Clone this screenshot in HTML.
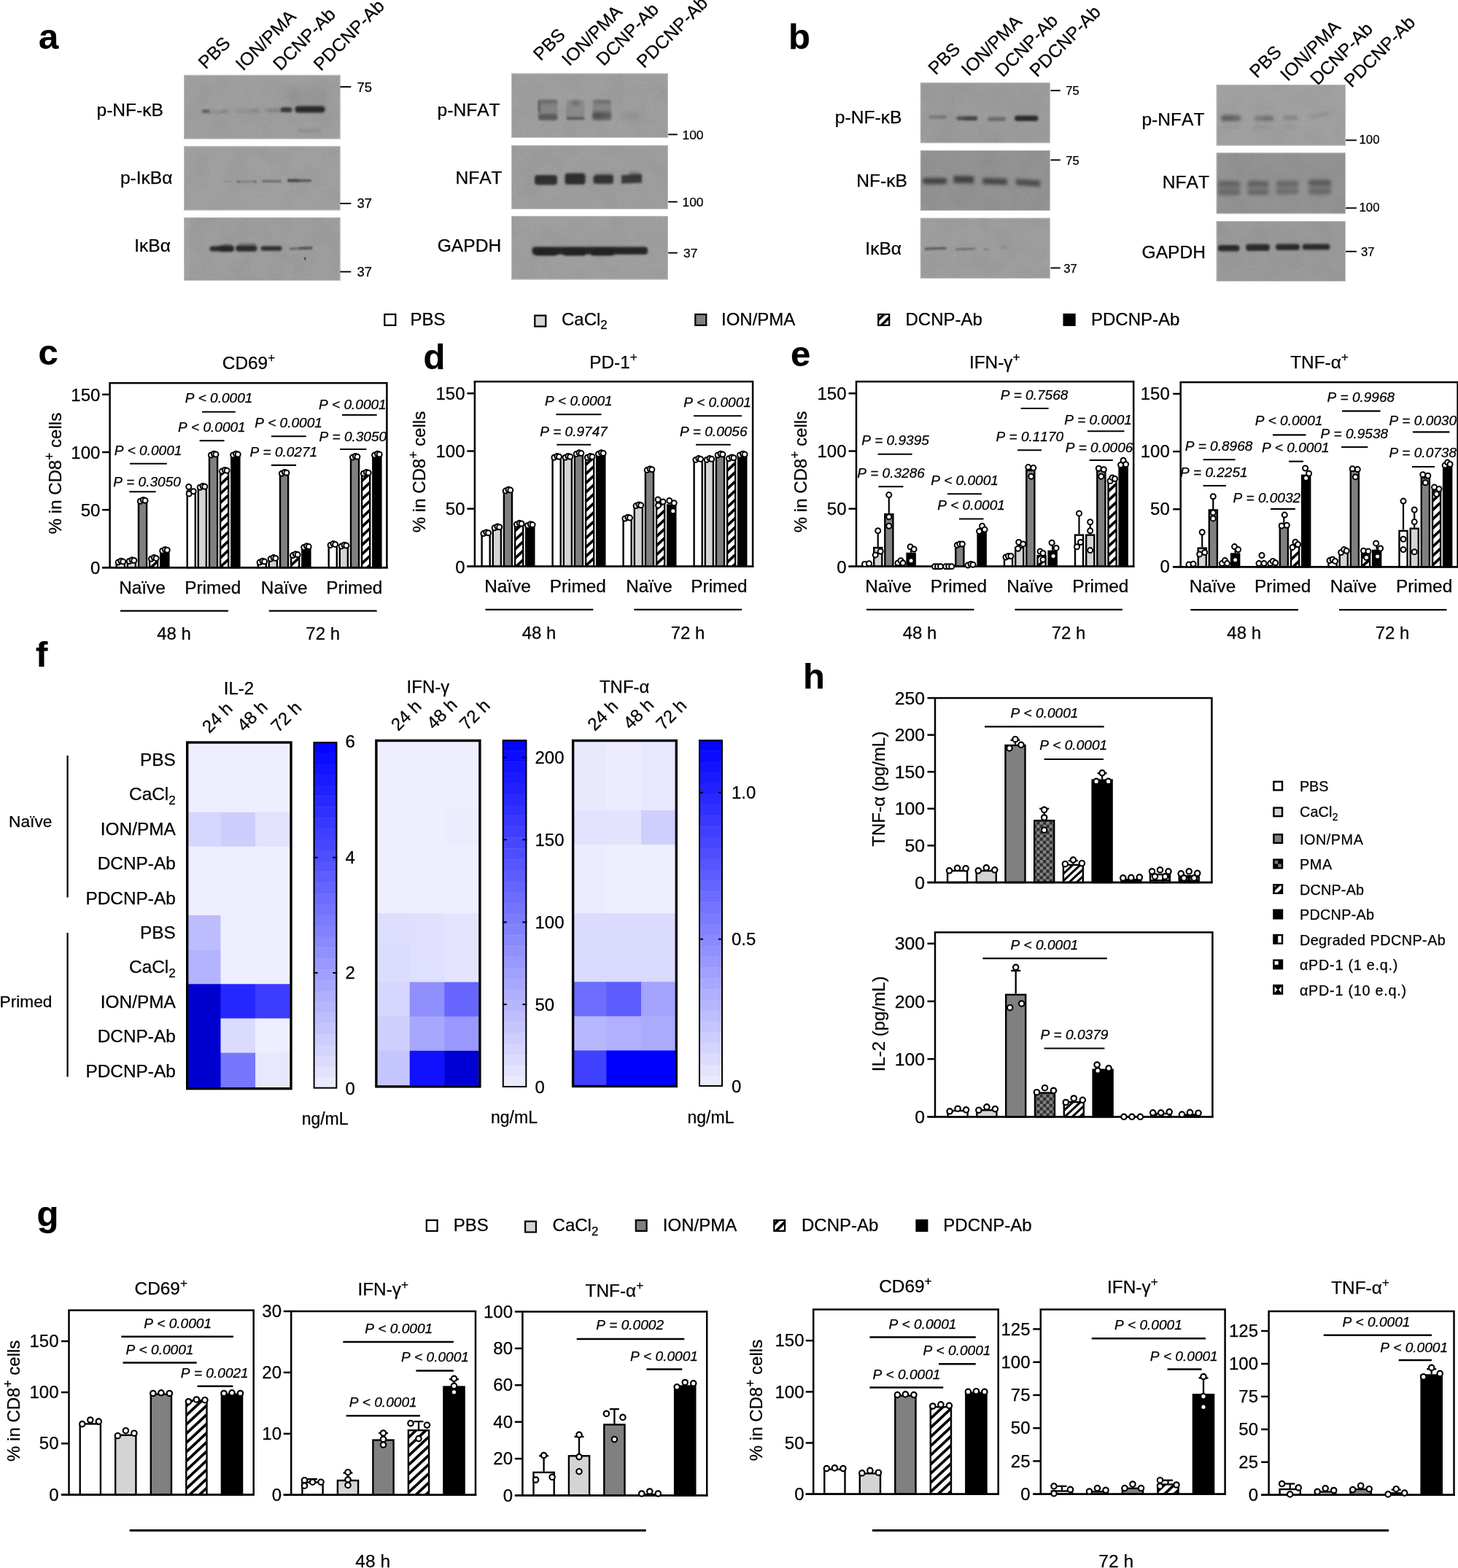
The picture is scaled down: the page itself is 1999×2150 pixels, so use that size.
<!DOCTYPE html>
<html lang="en">
<head>
<meta charset="utf-8">
<title>Figure</title>
<style>
html,body{margin:0;padding:0;background:#fff;}
body{width:1999px;height:2150px;overflow:hidden;}
svg{display:block;font-family:"Liberation Sans",sans-serif;}
svg text{fill:#000;font-kerning:none;stroke:#000;stroke-width:0.25px;stroke-linejoin:round;}
</style>
</head>
<body>
<svg width="1999" height="2150" viewBox="0 0 1999 2150">
<defs>
<filter id="grain2" x="0" y="0" width="100%" height="100%"><feTurbulence type="fractalNoise" baseFrequency="0.45" numOctaves="2" seed="11" result="n"/><feColorMatrix in="n" type="matrix" values="0 0 0 0 0  0 0 0 0 0  0 0 0 0 0  1.6 0 0 0 -0.55"/></filter>
<filter id="grain" x="0" y="0" width="100%" height="100%"><feTurbulence type="fractalNoise" baseFrequency="0.035" numOctaves="2" seed="7" result="n"/><feColorMatrix in="n" type="matrix" values="0 0 0 0 0  0 0 0 0 0  0 0 0 0 0  0.9 0 0 0 -0.35"/></filter>
<clipPath id="bc1"><rect x="252.0" y="102.8" width="214.6" height="87.8"/></clipPath>
<filter id="bl1_5" x="-50%" y="-300%" width="200%" height="700%"><feGaussianBlur stdDeviation="1.5"/></filter>
<filter id="bl2" x="-50%" y="-300%" width="200%" height="700%"><feGaussianBlur stdDeviation="2"/></filter>
<filter id="bl1_8" x="-50%" y="-300%" width="200%" height="700%"><feGaussianBlur stdDeviation="1.8"/></filter>
<filter id="bl5" x="-50%" y="-300%" width="200%" height="700%"><feGaussianBlur stdDeviation="5"/></filter>
<clipPath id="bc2"><rect x="252.0" y="200.4" width="214.6" height="88.0"/></clipPath>
<filter id="bl1" x="-50%" y="-300%" width="200%" height="700%"><feGaussianBlur stdDeviation="1"/></filter>
<clipPath id="bc3"><rect x="252.0" y="298.0" width="214.6" height="87.0"/></clipPath>
<filter id="bl1_3" x="-50%" y="-300%" width="200%" height="700%"><feGaussianBlur stdDeviation="1.3"/></filter>
<filter id="bl0_6" x="-50%" y="-300%" width="200%" height="700%"><feGaussianBlur stdDeviation="0.6"/></filter>
<clipPath id="bc4"><rect x="701.0" y="100.6" width="215.0" height="88.4"/></clipPath>
<filter id="bl1_2" x="-50%" y="-300%" width="200%" height="700%"><feGaussianBlur stdDeviation="1.2"/></filter>
<filter id="bl3" x="-50%" y="-300%" width="200%" height="700%"><feGaussianBlur stdDeviation="3"/></filter>
<clipPath id="bc5"><rect x="701.0" y="199.2" width="215.0" height="87.6"/></clipPath>
<clipPath id="bc6"><rect x="701.0" y="296.2" width="215.0" height="87.2"/></clipPath>
<clipPath id="bc7"><rect x="1261.8" y="113.3" width="178.0" height="82.9"/></clipPath>
<clipPath id="bc8"><rect x="1261.8" y="206.0" width="178.0" height="83.0"/></clipPath>
<clipPath id="bc9"><rect x="1261.8" y="298.8" width="178.0" height="83.2"/></clipPath>
<clipPath id="bc10"><rect x="1667.7" y="116.0" width="177.3" height="83.7"/></clipPath>
<clipPath id="bc11"><rect x="1667.7" y="209.4" width="177.3" height="83.8"/></clipPath>
<clipPath id="bc12"><rect x="1667.7" y="303.0" width="177.3" height="83.0"/></clipPath>
<pattern id="hatch" patternUnits="userSpaceOnUse" width="9.2" height="9.2" patternTransform="rotate(-43)"><rect width="9.2" height="9.2" fill="#fff"/><rect y="0" width="9.2" height="3.7" fill="#000"/></pattern>
<pattern id="hatchH" patternUnits="userSpaceOnUse" width="7" height="7" patternTransform="rotate(-43)"><rect width="7" height="7" fill="#fff"/><rect y="0" width="7" height="3" fill="#000"/></pattern>
<pattern id="hatchL" patternUnits="userSpaceOnUse" width="8" height="8" patternTransform="rotate(-45)"><rect width="8" height="8" fill="#fff"/><rect y="0" width="8" height="3.6" fill="#000"/></pattern>
<pattern id="chk" patternUnits="userSpaceOnUse" width="8.8" height="8.8"><rect width="8.8" height="8.8" fill="#2e2e2e"/><rect width="4.4" height="4.4" fill="#868686"/><rect x="4.4" y="4.4" width="4.4" height="4.4" fill="#868686"/></pattern>
<pattern id="grid" patternUnits="userSpaceOnUse" width="9" height="9"><rect width="9" height="9" fill="#fff"/><path d="M0 0H9M0 0V9" stroke="#000" stroke-width="5"/></pattern>
<pattern id="xx" patternUnits="userSpaceOnUse" width="10" height="10"><rect width="10" height="10" fill="#000"/><path d="M5 1.5L8.5 5L5 8.5L1.5 5Z" fill="#fff"/></pattern>
<pattern id="half" patternUnits="userSpaceOnUse" width="10" height="10"><rect width="10" height="10" fill="#000"/></pattern>
<linearGradient id="cbar" x1="0" y1="1" x2="0" y2="0"><stop offset="0" stop-color="#eeeefe"/><stop offset="1" stop-color="#0000ff"/></linearGradient>
</defs>
<rect x="0" y="0" width="1999" height="2150" fill="#fff"/>
<text x="53.0" y="66.5" font-size="49" font-weight="bold">a</text>
<text x="1081.0" y="66.5" font-size="49" font-weight="bold">b</text>
<text x="282.1" y="95.8" font-size="24.8" transform="rotate(-45 282.1 95.8)">PBS</text>
<text x="333.2" y="98.1" font-size="24.8" transform="rotate(-45 333.2 98.1)">ION/PMA</text>
<text x="384.5" y="98.1" font-size="24.8" transform="rotate(-45 384.5 98.1)">DCNP-Ab</text>
<text x="439.9" y="98.3" font-size="24.8" transform="rotate(-45 439.9 98.3)">PDCNP-Ab</text>
<text x="224.0" y="159.0" font-size="24.6" text-anchor="end">p-NF-κB</text>
<text x="236.5" y="252.0" font-size="24.6" text-anchor="end">p-IκBα</text>
<text x="234.0" y="345.0" font-size="24.6" text-anchor="end">IκBα</text>
<rect x="252.0" y="102.8" width="214.6" height="87.8" fill="#a1a1a1"/>
<g clip-path="url(#bc1)">
<rect x="252.0" y="102.8" width="214.6" height="87.8" fill="#fff" opacity="0.07" filter="url(#grain)"/>
<rect x="252.0" y="102.8" width="214.6" height="87.8" fill="#000" opacity="0.06" filter="url(#grain2)"/>
<rect x="276.5" y="150.2" width="11.5" height="4.8" rx="2.4" fill="#242424" opacity="0.5" filter="url(#bl1_5)"/>
<rect x="286.0" y="151.8" width="27.0" height="3.5" rx="1.8" fill="#242424" opacity="0.16" filter="url(#bl2)"/>
<rect x="303.0" y="150.8" width="10.0" height="3.5" rx="1.8" fill="#242424" opacity="0.14" filter="url(#bl1_5)"/>
<rect x="324.0" y="150.7" width="32.0" height="3.2" rx="1.6" fill="#242424" opacity="0.14" filter="url(#bl2)"/>
<rect x="345.0" y="149.9" width="10.0" height="3.4" rx="1.7" fill="#242424" opacity="0.12" filter="url(#bl1_5)"/>
<rect x="364.0" y="149.3" width="22.0" height="4.0" rx="2.0" fill="#242424" opacity="0.28" filter="url(#bl2)"/>
<rect x="384.5" y="147.1" width="16.0" height="7.0" rx="3.5" fill="#242424" opacity="0.8" filter="url(#bl1_8)"/>
<rect x="404.5" y="145.5" width="41.0" height="9.0" rx="4.0" fill="#242424" opacity="0.92" filter="url(#bl1_8)"/>
<rect x="408.0" y="177.0" width="32.0" height="4.0" rx="2.0" fill="#242424" opacity="0.16" filter="url(#bl2)"/>
<rect x="395.0" y="120.0" width="55.0" height="30.0" rx="4.0" fill="#242424" opacity="0.06" filter="url(#bl5)"/>
</g>
<rect x="252.5" y="103.3" width="213.6" height="86.8" fill="none" stroke="#c4c4c4" stroke-width="1" opacity="0.8"/>
<line x1="466.3" y1="119.1" x2="481.3" y2="119.1" stroke="#000" stroke-width="1.9"/>
<text x="489.5" y="125.5" font-size="18.4">75</text>
<rect x="252.0" y="200.4" width="214.6" height="88.0" fill="#a2a2a2"/>
<g clip-path="url(#bc2)">
<rect x="252.0" y="200.4" width="214.6" height="88.0" fill="#fff" opacity="0.07" filter="url(#grain)"/>
<rect x="252.0" y="200.4" width="214.6" height="88.0" fill="#000" opacity="0.06" filter="url(#grain2)"/>
<rect x="306.0" y="248.0" width="12.0" height="2.0" rx="1.0" fill="#242424" opacity="0.12" filter="url(#bl1)"/>
<rect x="325.0" y="247.9" width="27.0" height="2.2" rx="1.1" fill="#242424" opacity="0.25" filter="url(#bl1)"/>
<rect x="325.0" y="247.8" width="4.0" height="3.0" rx="1.5" fill="#242424" opacity="0.3" filter="url(#bl1)"/>
<rect x="348.0" y="247.8" width="4.0" height="3.0" rx="1.5" fill="#242424" opacity="0.3" filter="url(#bl1)"/>
<rect x="359.0" y="247.1" width="27.0" height="3.0" rx="1.5" fill="#242424" opacity="0.4" filter="url(#bl1)"/>
<rect x="394.0" y="245.8" width="33.0" height="3.6" rx="1.8" fill="#242424" opacity="0.55" filter="url(#bl1)"/>
<rect x="394.0" y="245.6" width="16.0" height="4.0" rx="2.0" fill="#242424" opacity="0.3" filter="url(#bl1)"/>
</g>
<rect x="252.5" y="200.9" width="213.6" height="87.0" fill="none" stroke="#c4c4c4" stroke-width="1" opacity="0.8"/>
<line x1="466.3" y1="279.0" x2="481.3" y2="279.0" stroke="#000" stroke-width="1.9"/>
<text x="489.5" y="285.4" font-size="18.4">37</text>
<rect x="252.0" y="298.0" width="214.6" height="87.0" fill="#a0a0a0"/>
<g clip-path="url(#bc3)">
<rect x="252.0" y="298.0" width="214.6" height="87.0" fill="#fff" opacity="0.07" filter="url(#grain)"/>
<rect x="252.0" y="298.0" width="214.6" height="87.0" fill="#000" opacity="0.06" filter="url(#grain2)"/>
<rect x="287.5" y="337.4" width="33.0" height="7.2" rx="3.6" fill="#242424" opacity="0.92" filter="url(#bl1_5)"/>
<rect x="300.0" y="336.3" width="20.5" height="8.6" rx="4.0" fill="#242424" opacity="0.6" filter="url(#bl1_5)"/>
<rect x="323.0" y="336.5" width="29.5" height="8.2" rx="4.0" fill="#242424" opacity="0.92" filter="url(#bl1_5)"/>
<rect x="327.0" y="333.5" width="24.0" height="3.0" rx="1.5" fill="#242424" opacity="0.35" filter="url(#bl1_5)"/>
<rect x="306.0" y="334.3" width="12.0" height="2.6" rx="1.3" fill="#242424" opacity="0.25" filter="url(#bl1_5)"/>
<rect x="357.5" y="337.4" width="29.0" height="6.4" rx="3.2" fill="#242424" opacity="0.9" filter="url(#bl1_5)"/>
<path d="M397.0 339.4L428.0 338.4L428.0 341.8L397.0 342.8Z" fill="#242424" opacity="0.42" filter="url(#bl1_3)"/>
<path d="M410.0 338.5L428.0 337.9L428.0 341.5L410.0 342.1Z" fill="#242424" opacity="0.3" filter="url(#bl1_3)"/>
<rect x="417.0" y="352.4" width="2.5" height="4.4" rx="2.2" fill="#242424" opacity="0.7" filter="url(#bl0_6)"/>
<rect x="252.0" y="301.0" width="8.0" height="80.0" rx="4.0" fill="#fff" opacity="0.06" filter="url(#bl2)"/>
</g>
<rect x="252.5" y="298.5" width="213.6" height="86.0" fill="none" stroke="#c4c4c4" stroke-width="1" opacity="0.8"/>
<line x1="466.3" y1="372.6" x2="481.3" y2="372.6" stroke="#000" stroke-width="1.9"/>
<text x="489.5" y="379.0" font-size="18.4">37</text>
<text x="741.3" y="84.3" font-size="24.8" transform="rotate(-45 741.3 84.3)">PBS</text>
<text x="780.5" y="91.5" font-size="24.8" transform="rotate(-45 780.5 91.5)">ION/PMA</text>
<text x="827.5" y="91.5" font-size="24.8" transform="rotate(-45 827.5 91.5)">DCNP-Ab</text>
<text x="883.0" y="94.5" font-size="24.8" transform="rotate(-45 883.0 94.5)">PDCNP-Ab</text>
<text x="685.6" y="159.3" font-size="24.6" text-anchor="end">p-NFAT</text>
<text x="688.6" y="252.0" font-size="24.6" text-anchor="end">NFAT</text>
<text x="687.2" y="344.8" font-size="24.6" text-anchor="end">GAPDH</text>
<rect x="701.0" y="100.6" width="215.0" height="88.4" fill="#a1a1a1"/>
<g clip-path="url(#bc4)">
<rect x="701.0" y="100.6" width="215.0" height="88.4" fill="#fff" opacity="0.07" filter="url(#grain)"/>
<rect x="701.0" y="100.6" width="215.0" height="88.4" fill="#000" opacity="0.06" filter="url(#grain2)"/>
<rect x="738.0" y="136.5" width="26.5" height="29.0" rx="4.0" fill="#242424" opacity="0.2" filter="url(#bl1_2)"/>
<rect x="738.0" y="156.5" width="26.5" height="8.0" rx="4.0" fill="#242424" opacity="0.42" filter="url(#bl1_5)"/>
<rect x="740.0" y="136.5" width="24.5" height="6.0" rx="3.0" fill="#242424" opacity="0.22" filter="url(#bl1_5)"/>
<rect x="738.0" y="137.0" width="2.5" height="18.0" rx="4.0" fill="#242424" opacity="0.45" filter="url(#bl1)"/>
<rect x="776.5" y="137.0" width="25.0" height="28.0" rx="4.0" fill="#242424" opacity="0.15" filter="url(#bl1_2)"/>
<rect x="776.5" y="160.3" width="25.0" height="4.0" rx="2.0" fill="#242424" opacity="0.4" filter="url(#bl1_2)"/>
<rect x="783.0" y="137.5" width="12.0" height="7.0" rx="3.5" fill="#242424" opacity="0.25" filter="url(#bl2)"/>
<rect x="812.5" y="136.5" width="25.5" height="29.0" rx="4.0" fill="#242424" opacity="0.2" filter="url(#bl1_2)"/>
<rect x="812.5" y="153.5" width="25.5" height="10.0" rx="4.0" fill="#242424" opacity="0.42" filter="url(#bl2)"/>
<rect x="812.5" y="154.5" width="12.5" height="9.0" rx="4.0" fill="#242424" opacity="0.2" filter="url(#bl2)"/>
<rect x="815.0" y="137.0" width="22.0" height="5.0" rx="2.5" fill="#242424" opacity="0.18" filter="url(#bl1_5)"/>
<rect x="849.0" y="153.0" width="27.0" height="10.0" rx="4.0" fill="#242424" opacity="0.07" filter="url(#bl3)"/>
</g>
<rect x="701.5" y="101.1" width="214.0" height="87.4" fill="none" stroke="#c4c4c4" stroke-width="1" opacity="0.8"/>
<line x1="916.2" y1="184.4" x2="928.8" y2="184.4" stroke="#000" stroke-width="1.9"/>
<text x="935.5" y="191.0" font-size="17.4">100</text>
<rect x="701.0" y="199.2" width="215.0" height="87.6" fill="#a0a0a0"/>
<g clip-path="url(#bc5)">
<rect x="701.0" y="199.2" width="215.0" height="87.6" fill="#fff" opacity="0.07" filter="url(#grain)"/>
<rect x="701.0" y="199.2" width="215.0" height="87.6" fill="#000" opacity="0.06" filter="url(#grain2)"/>
<rect x="733.0" y="240.1" width="31.0" height="13.5" rx="4.0" fill="#242424" opacity="0.88" filter="url(#bl1_8)"/>
<rect x="774.5" y="237.4" width="28.0" height="15.5" rx="4.0" fill="#242424" opacity="0.9" filter="url(#bl1_8)"/>
<rect x="813.5" y="239.8" width="27.5" height="12.5" rx="4.0" fill="#242424" opacity="0.85" filter="url(#bl1_8)"/>
<rect x="818.0" y="237.5" width="23.0" height="5.0" rx="2.5" fill="#242424" opacity="0.25" filter="url(#bl2)"/>
<path d="M852.0 240.2L880.0 239.3L880.0 250.8L852.0 251.7Z" fill="#242424" opacity="0.8" filter="url(#bl1_8)"/>
<rect x="862.0" y="236.5" width="16.0" height="6.0" rx="3.0" fill="#242424" opacity="0.45" filter="url(#bl2)"/>
</g>
<rect x="701.5" y="199.7" width="214.0" height="86.6" fill="none" stroke="#c4c4c4" stroke-width="1" opacity="0.8"/>
<line x1="916.2" y1="276.7" x2="928.8" y2="276.7" stroke="#000" stroke-width="1.9"/>
<text x="935.5" y="283.3" font-size="17.4">100</text>
<rect x="701.0" y="296.2" width="215.0" height="87.2" fill="#a1a1a1"/>
<g clip-path="url(#bc6)">
<rect x="701.0" y="296.2" width="215.0" height="87.2" fill="#fff" opacity="0.07" filter="url(#grain)"/>
<rect x="701.0" y="296.2" width="215.0" height="87.2" fill="#000" opacity="0.06" filter="url(#grain2)"/>
<rect x="729.5" y="338.4" width="158.5" height="10.5" rx="4.0" fill="#242424" opacity="0.96" filter="url(#bl1_5)"/>
<rect x="733.0" y="341.5" width="31.0" height="9.0" rx="4.0" fill="#242424" opacity="0.9" filter="url(#bl1_5)"/>
<rect x="772.0" y="341.5" width="31.0" height="9.0" rx="4.0" fill="#242424" opacity="0.9" filter="url(#bl1_5)"/>
<rect x="810.0" y="341.5" width="32.0" height="9.0" rx="4.0" fill="#242424" opacity="0.9" filter="url(#bl1_5)"/>
</g>
<rect x="701.5" y="296.7" width="214.0" height="86.2" fill="none" stroke="#c4c4c4" stroke-width="1" opacity="0.8"/>
<line x1="916.2" y1="346.7" x2="928.8" y2="346.7" stroke="#000" stroke-width="1.9"/>
<text x="937.0" y="353.1" font-size="17.4">37</text>
<text x="1282.8" y="103.8" font-size="24.8" transform="rotate(-45 1282.8 103.8)">PBS</text>
<text x="1328.3" y="105.3" font-size="24.8" transform="rotate(-45 1328.3 105.3)">ION/PMA</text>
<text x="1374.8" y="106.7" font-size="24.8" transform="rotate(-45 1374.8 106.7)">DCNP-Ab</text>
<text x="1421.8" y="106.7" font-size="24.8" transform="rotate(-45 1421.8 106.7)">PDCNP-Ab</text>
<text x="1236.4" y="168.6" font-size="24.6" text-anchor="end">p-NF-κB</text>
<text x="1243.9" y="255.7" font-size="24.6" text-anchor="end">NF-κB</text>
<text x="1236.1" y="348.6" font-size="24.6" text-anchor="end">IκBα</text>
<rect x="1261.8" y="113.3" width="178.0" height="82.9" fill="#9e9e9e"/>
<g clip-path="url(#bc7)">
<rect x="1261.8" y="113.3" width="178.0" height="82.9" fill="#fff" opacity="0.07" filter="url(#grain)"/>
<rect x="1261.8" y="113.3" width="178.0" height="82.9" fill="#000" opacity="0.06" filter="url(#grain2)"/>
<rect x="1273.5" y="158.3" width="24.5" height="4.5" rx="2.2" fill="#242424" opacity="0.28" filter="url(#bl1_5)"/>
<rect x="1311.5" y="159.6" width="28.5" height="5.5" rx="2.8" fill="#242424" opacity="0.6" filter="url(#bl1_5)"/>
<rect x="1322.0" y="159.8" width="18.0" height="5.5" rx="2.8" fill="#242424" opacity="0.3" filter="url(#bl1_5)"/>
<rect x="1354.0" y="160.6" width="25.0" height="5.5" rx="2.8" fill="#242424" opacity="0.4" filter="url(#bl1_5)"/>
<rect x="1391.0" y="158.5" width="32.5" height="7.6" rx="3.8" fill="#242424" opacity="0.92" filter="url(#bl1_5)"/>
</g>
<rect x="1262.3" y="113.8" width="177.0" height="81.9" fill="none" stroke="#c4c4c4" stroke-width="1" opacity="0.8"/>
<line x1="1440.5" y1="124.2" x2="1453.8" y2="124.2" stroke="#000" stroke-width="1.9"/>
<text x="1461.3" y="130.3" font-size="16.6">75</text>
<rect x="1261.8" y="206.0" width="178.0" height="83.0" fill="#959595"/>
<g clip-path="url(#bc8)">
<rect x="1261.8" y="206.0" width="178.0" height="83.0" fill="#fff" opacity="0.07" filter="url(#grain)"/>
<rect x="1261.8" y="206.0" width="178.0" height="83.0" fill="#000" opacity="0.06" filter="url(#grain2)"/>
<rect x="1265.0" y="244.1" width="33.5" height="8.5" rx="4.0" fill="#242424" opacity="0.68" filter="url(#bl2)"/>
<path d="M1307.5 241.1L1335.0 241.5L1335.0 251.5L1307.5 251.1Z" fill="#242424" opacity="0.7" filter="url(#bl2)"/>
<path d="M1347.5 244.0L1380.5 245.1L1380.5 253.6L1347.5 252.5Z" fill="#242424" opacity="0.66" filter="url(#bl2)"/>
<path d="M1393.0 245.2L1426.0 247.5L1426.0 256.0L1393.0 253.7Z" fill="#242424" opacity="0.6" filter="url(#bl2)"/>
</g>
<rect x="1262.3" y="206.5" width="177.0" height="82.0" fill="none" stroke="#c4c4c4" stroke-width="1" opacity="0.8"/>
<line x1="1440.5" y1="219.4" x2="1453.8" y2="219.4" stroke="#000" stroke-width="1.9"/>
<text x="1461.3" y="225.5" font-size="16.6">75</text>
<rect x="1261.8" y="298.8" width="178.0" height="83.2" fill="#a0a0a0"/>
<g clip-path="url(#bc9)">
<rect x="1261.8" y="298.8" width="178.0" height="83.2" fill="#fff" opacity="0.07" filter="url(#grain)"/>
<rect x="1261.8" y="298.8" width="178.0" height="83.2" fill="#000" opacity="0.06" filter="url(#grain2)"/>
<path d="M1268.0 339.5L1297.0 338.5L1297.0 342.1L1268.0 343.1Z" fill="#242424" opacity="0.5" filter="url(#bl1_2)"/>
<path d="M1310.0 340.5L1337.0 339.5L1337.0 342.5L1310.0 343.5Z" fill="#242424" opacity="0.33" filter="url(#bl1_2)"/>
<rect x="1348.0" y="340.4" width="8.0" height="2.4" rx="1.2" fill="#242424" opacity="0.25" filter="url(#bl1)"/>
<rect x="1372.0" y="337.3" width="8.0" height="3.4" rx="1.7" fill="#242424" opacity="0.15" filter="url(#bl1_5)"/>
</g>
<rect x="1262.3" y="299.3" width="177.0" height="82.2" fill="none" stroke="#c4c4c4" stroke-width="1" opacity="0.8"/>
<line x1="1440.5" y1="367.4" x2="1453.8" y2="367.4" stroke="#000" stroke-width="1.9"/>
<text x="1458.3" y="373.5" font-size="16.6">37</text>
<text x="1723.3" y="107.9" font-size="24.8" transform="rotate(-45 1723.3 107.9)">PBS</text>
<text x="1765.5" y="112.3" font-size="24.8" transform="rotate(-45 1765.5 112.3)">ION/PMA</text>
<text x="1806.5" y="118.1" font-size="24.8" transform="rotate(-45 1806.5 118.1)">DCNP-Ab</text>
<text x="1853.1" y="121.0" font-size="24.8" transform="rotate(-45 1853.1 121.0)">PDCNP-Ab</text>
<text x="1651.5" y="172.4" font-size="24.6" text-anchor="end">p-NFAT</text>
<text x="1658.0" y="257.7" font-size="24.6" text-anchor="end">NFAT</text>
<text x="1653.0" y="354.4" font-size="24.6" text-anchor="end">GAPDH</text>
<rect x="1667.7" y="116.0" width="177.3" height="83.7" fill="#a3a3a3"/>
<g clip-path="url(#bc10)">
<rect x="1667.7" y="116.0" width="177.3" height="83.7" fill="#fff" opacity="0.07" filter="url(#grain)"/>
<rect x="1667.7" y="116.0" width="177.3" height="83.7" fill="#000" opacity="0.06" filter="url(#grain2)"/>
<rect x="1673.5" y="157.8" width="28.0" height="8.5" rx="4.0" fill="#242424" opacity="0.42" filter="url(#bl2)"/>
<rect x="1676.0" y="159.5" width="16.0" height="5.0" rx="2.5" fill="#242424" opacity="0.2" filter="url(#bl2)"/>
<rect x="1719.5" y="159.2" width="26.5" height="6.5" rx="3.2" fill="#242424" opacity="0.3" filter="url(#bl2)"/>
<rect x="1732.0" y="159.5" width="14.0" height="6.0" rx="3.0" fill="#242424" opacity="0.15" filter="url(#bl2)"/>
<rect x="1759.0" y="158.8" width="21.0" height="5.5" rx="2.8" fill="#242424" opacity="0.24" filter="url(#bl2)"/>
<path d="M1795.5 158.7L1821.0 153.3L1821.0 157.3L1795.5 162.7Z" fill="#242424" opacity="0.14" filter="url(#bl2)"/>
<rect x="1678.0" y="172.5" width="24.0" height="3.0" rx="1.5" fill="#242424" opacity="0.1" filter="url(#bl2)"/>
<rect x="1719.0" y="172.5" width="25.0" height="3.0" rx="1.5" fill="#242424" opacity="0.12" filter="url(#bl2)"/>
<rect x="1762.0" y="172.5" width="19.0" height="3.0" rx="1.5" fill="#242424" opacity="0.09" filter="url(#bl2)"/>
</g>
<rect x="1668.2" y="116.5" width="176.3" height="82.7" fill="none" stroke="#c4c4c4" stroke-width="1" opacity="0.8"/>
<line x1="1845.1" y1="192.3" x2="1859.9" y2="192.3" stroke="#000" stroke-width="1.9"/>
<text x="1863.5" y="197.2" font-size="16.8">100</text>
<rect x="1667.7" y="209.4" width="177.3" height="83.8" fill="#959595"/>
<g clip-path="url(#bc11)">
<rect x="1667.7" y="209.4" width="177.3" height="83.8" fill="#fff" opacity="0.07" filter="url(#grain)"/>
<rect x="1667.7" y="209.4" width="177.3" height="83.8" fill="#000" opacity="0.06" filter="url(#grain2)"/>
<rect x="1669.7" y="248.0" width="30.3" height="19.0" rx="4.0" fill="#242424" opacity="0.2" filter="url(#bl2)"/>
<rect x="1669.7" y="248.2" width="30.3" height="7.5" rx="3.8" fill="#242424" opacity="0.25" filter="url(#bl2)"/>
<rect x="1669.7" y="260.5" width="30.3" height="7.0" rx="3.5" fill="#242424" opacity="0.2" filter="url(#bl2)"/>
<rect x="1710.6" y="248.0" width="28.8" height="19.0" rx="4.0" fill="#242424" opacity="0.2" filter="url(#bl2)"/>
<rect x="1710.6" y="248.2" width="28.8" height="7.5" rx="3.8" fill="#242424" opacity="0.25" filter="url(#bl2)"/>
<rect x="1710.6" y="260.5" width="28.8" height="7.0" rx="3.5" fill="#242424" opacity="0.22" filter="url(#bl2)"/>
<rect x="1750.0" y="248.0" width="30.3" height="18.0" rx="4.0" fill="#242424" opacity="0.17" filter="url(#bl2)"/>
<rect x="1750.0" y="248.2" width="30.3" height="7.5" rx="3.8" fill="#242424" opacity="0.2" filter="url(#bl2)"/>
<rect x="1750.0" y="259.5" width="30.3" height="7.0" rx="3.5" fill="#242424" opacity="0.18" filter="url(#bl2)"/>
<rect x="1794.0" y="247.0" width="31.0" height="19.0" rx="4.0" fill="#242424" opacity="0.2" filter="url(#bl2)"/>
<rect x="1794.0" y="246.5" width="31.0" height="8.0" rx="4.0" fill="#242424" opacity="0.32" filter="url(#bl2)"/>
<rect x="1794.0" y="259.5" width="31.0" height="7.0" rx="3.5" fill="#242424" opacity="0.2" filter="url(#bl2)"/>
</g>
<rect x="1668.2" y="209.9" width="176.3" height="82.8" fill="none" stroke="#c4c4c4" stroke-width="1" opacity="0.8"/>
<line x1="1845.1" y1="285.3" x2="1859.9" y2="285.3" stroke="#000" stroke-width="1.9"/>
<text x="1863.5" y="290.2" font-size="16.8">100</text>
<rect x="1667.7" y="303.0" width="177.3" height="83.0" fill="#9c9c9c"/>
<g clip-path="url(#bc12)">
<rect x="1667.7" y="303.0" width="177.3" height="83.0" fill="#fff" opacity="0.07" filter="url(#grain)"/>
<rect x="1667.7" y="303.0" width="177.3" height="83.0" fill="#000" opacity="0.06" filter="url(#grain2)"/>
<rect x="1669.7" y="335.9" width="29.8" height="8.6" rx="4.0" fill="#242424" opacity="0.93" filter="url(#bl1_5)"/>
<rect x="1708.0" y="334.7" width="33.0" height="9.4" rx="4.0" fill="#242424" opacity="0.93" filter="url(#bl1_5)"/>
<rect x="1749.0" y="334.5" width="33.0" height="8.6" rx="4.0" fill="#242424" opacity="0.93" filter="url(#bl1_5)"/>
<rect x="1785.5" y="334.6" width="38.0" height="8.0" rx="4.0" fill="#242424" opacity="0.93" filter="url(#bl1_5)"/>
</g>
<rect x="1668.2" y="303.5" width="176.3" height="82.0" fill="none" stroke="#c4c4c4" stroke-width="1" opacity="0.8"/>
<line x1="1845.1" y1="344.8" x2="1859.9" y2="344.8" stroke="#000" stroke-width="1.9"/>
<text x="1866.0" y="351.1" font-size="16.8">37</text>
<rect x="527.3" y="431.0" width="15.0" height="15.0" fill="#fff" stroke="#000" stroke-width="2.2"/>
<text x="562.6" y="445.6" font-size="24">PBS</text>
<rect x="733.3" y="432.6" width="15.0" height="15.0" fill="#d4d4d4" stroke="#000" stroke-width="2.2"/>
<text x="770.0" y="445.6" font-size="24">CaCl<tspan font-size="16.8" dy="5.6">2</tspan></text>
<rect x="953.3" y="431.0" width="15.0" height="15.0" fill="#808080" stroke="#000" stroke-width="2.2"/>
<text x="989.0" y="445.6" font-size="24">ION/PMA</text>
<rect x="1204.2" y="431.0" width="15.0" height="15.0" fill="url(#hatchL)" stroke="#000" stroke-width="2.2"/>
<text x="1241.5" y="445.6" font-size="24">DCNP-Ab</text>
<rect x="1458.6" y="431.0" width="15.0" height="15.0" fill="#000" stroke="#000" stroke-width="2.2"/>
<text x="1496.0" y="445.6" font-size="24">PDCNP-Ab</text>
<text x="52.5" y="499.5" font-size="49" font-weight="bold">c</text>
<rect x="159.7" y="771.5" width="11.1" height="6.7" fill="#fff" stroke="#000" stroke-width="2.4"/>
<rect x="174.8" y="769.9" width="11.1" height="8.3" fill="#d4d4d4" stroke="#000" stroke-width="2.4"/>
<rect x="190.0" y="687.6" width="11.1" height="90.6" fill="#808080" stroke="#000" stroke-width="2.4"/>
<rect x="205.1" y="766.7" width="11.1" height="11.5" fill="url(#hatch)" stroke="#000" stroke-width="2.4"/>
<rect x="220.3" y="755.7" width="11.1" height="22.5" fill="#000" stroke="#000" stroke-width="2.4"/>
<rect x="256.7" y="673.4" width="11.1" height="104.8" fill="#fff" stroke="#000" stroke-width="2.4"/>
<rect x="271.8" y="668.7" width="11.1" height="109.5" fill="#d4d4d4" stroke="#000" stroke-width="2.4"/>
<rect x="287.0" y="624.4" width="11.1" height="153.8" fill="#808080" stroke="#000" stroke-width="2.4"/>
<rect x="302.1" y="646.5" width="11.1" height="131.7" fill="url(#hatch)" stroke="#000" stroke-width="2.4"/>
<rect x="317.3" y="624.4" width="11.1" height="153.8" fill="#000" stroke="#000" stroke-width="2.4"/>
<rect x="353.7" y="771.5" width="11.1" height="6.7" fill="#fff" stroke="#000" stroke-width="2.4"/>
<rect x="368.8" y="766.7" width="11.1" height="11.5" fill="#d4d4d4" stroke="#000" stroke-width="2.4"/>
<rect x="384.0" y="649.7" width="11.1" height="128.5" fill="#808080" stroke="#000" stroke-width="2.4"/>
<rect x="399.1" y="762.0" width="11.1" height="16.2" fill="url(#hatch)" stroke="#000" stroke-width="2.4"/>
<rect x="414.3" y="750.9" width="11.1" height="27.3" fill="#000" stroke="#000" stroke-width="2.4"/>
<rect x="450.7" y="747.8" width="11.1" height="30.4" fill="#fff" stroke="#000" stroke-width="2.4"/>
<rect x="465.8" y="749.3" width="11.1" height="28.9" fill="#d4d4d4" stroke="#000" stroke-width="2.4"/>
<rect x="481.0" y="627.5" width="11.1" height="150.7" fill="#808080" stroke="#000" stroke-width="2.4"/>
<rect x="496.1" y="649.7" width="11.1" height="128.5" fill="url(#hatch)" stroke="#000" stroke-width="2.4"/>
<rect x="511.3" y="624.4" width="11.1" height="153.8" fill="#000" stroke="#000" stroke-width="2.4"/>
<rect x="150.6" y="525.2" width="379.8" height="253.0" fill="none" stroke="#000" stroke-width="2.5"/>
<line x1="140.1" y1="778.2" x2="531.6" y2="778.2" stroke="#000" stroke-width="2.5"/>
<circle cx="162.1" cy="771.1" r="3.5" fill="#fff" stroke="#000" stroke-width="2.0"/>
<circle cx="165.8" cy="769.3" r="3.5" fill="#fff" stroke="#000" stroke-width="2.0"/>
<circle cx="168.7" cy="770.1" r="3.5" fill="#fff" stroke="#000" stroke-width="2.0"/>
<circle cx="177.2" cy="769.5" r="3.5" fill="#fff" stroke="#000" stroke-width="2.0"/>
<circle cx="181.0" cy="767.8" r="3.5" fill="#fff" stroke="#000" stroke-width="2.0"/>
<circle cx="183.8" cy="768.5" r="3.5" fill="#fff" stroke="#000" stroke-width="2.0"/>
<circle cx="192.4" cy="687.2" r="3.5" fill="#fff" stroke="#000" stroke-width="2.0"/>
<circle cx="196.2" cy="685.5" r="3.5" fill="#fff" stroke="#000" stroke-width="2.0"/>
<circle cx="199.0" cy="686.3" r="3.5" fill="#fff" stroke="#000" stroke-width="2.0"/>
<circle cx="207.5" cy="766.3" r="3.5" fill="#fff" stroke="#000" stroke-width="2.0"/>
<circle cx="211.3" cy="764.6" r="3.5" fill="#fff" stroke="#000" stroke-width="2.0"/>
<circle cx="214.1" cy="765.4" r="3.5" fill="#fff" stroke="#000" stroke-width="2.0"/>
<circle cx="222.7" cy="755.3" r="3.5" fill="#fff" stroke="#000" stroke-width="2.0"/>
<circle cx="226.4" cy="753.5" r="3.5" fill="#fff" stroke="#000" stroke-width="2.0"/>
<circle cx="229.2" cy="754.3" r="3.5" fill="#fff" stroke="#000" stroke-width="2.0"/>
<circle cx="258.8" cy="667.5" r="3.5" fill="#fff" stroke="#000" stroke-width="2.0"/>
<circle cx="259.2" cy="677.0" r="3.5" fill="#fff" stroke="#000" stroke-width="2.0"/>
<circle cx="265.2" cy="673.8" r="3.5" fill="#fff" stroke="#000" stroke-width="2.0"/>
<circle cx="274.2" cy="668.3" r="3.5" fill="#fff" stroke="#000" stroke-width="2.0"/>
<circle cx="278.0" cy="666.5" r="3.5" fill="#fff" stroke="#000" stroke-width="2.0"/>
<circle cx="280.8" cy="667.3" r="3.5" fill="#fff" stroke="#000" stroke-width="2.0"/>
<circle cx="289.4" cy="624.0" r="3.5" fill="#fff" stroke="#000" stroke-width="2.0"/>
<circle cx="293.2" cy="622.2" r="3.5" fill="#fff" stroke="#000" stroke-width="2.0"/>
<circle cx="295.9" cy="623.0" r="3.5" fill="#fff" stroke="#000" stroke-width="2.0"/>
<circle cx="304.5" cy="646.1" r="3.5" fill="#fff" stroke="#000" stroke-width="2.0"/>
<circle cx="308.3" cy="644.4" r="3.5" fill="#fff" stroke="#000" stroke-width="2.0"/>
<circle cx="311.1" cy="645.2" r="3.5" fill="#fff" stroke="#000" stroke-width="2.0"/>
<circle cx="319.7" cy="624.0" r="3.5" fill="#fff" stroke="#000" stroke-width="2.0"/>
<circle cx="323.5" cy="622.2" r="3.5" fill="#fff" stroke="#000" stroke-width="2.0"/>
<circle cx="326.2" cy="623.0" r="3.5" fill="#fff" stroke="#000" stroke-width="2.0"/>
<circle cx="356.1" cy="771.1" r="3.5" fill="#fff" stroke="#000" stroke-width="2.0"/>
<circle cx="359.9" cy="769.3" r="3.5" fill="#fff" stroke="#000" stroke-width="2.0"/>
<circle cx="362.6" cy="770.1" r="3.5" fill="#fff" stroke="#000" stroke-width="2.0"/>
<circle cx="371.2" cy="766.3" r="3.5" fill="#fff" stroke="#000" stroke-width="2.0"/>
<circle cx="375.0" cy="764.6" r="3.5" fill="#fff" stroke="#000" stroke-width="2.0"/>
<circle cx="377.8" cy="765.4" r="3.5" fill="#fff" stroke="#000" stroke-width="2.0"/>
<circle cx="386.4" cy="649.3" r="3.5" fill="#fff" stroke="#000" stroke-width="2.0"/>
<circle cx="390.2" cy="647.5" r="3.5" fill="#fff" stroke="#000" stroke-width="2.0"/>
<circle cx="392.9" cy="648.3" r="3.5" fill="#fff" stroke="#000" stroke-width="2.0"/>
<circle cx="401.5" cy="761.6" r="3.5" fill="#fff" stroke="#000" stroke-width="2.0"/>
<circle cx="405.3" cy="759.8" r="3.5" fill="#fff" stroke="#000" stroke-width="2.0"/>
<circle cx="408.1" cy="760.6" r="3.5" fill="#fff" stroke="#000" stroke-width="2.0"/>
<circle cx="416.7" cy="750.5" r="3.5" fill="#fff" stroke="#000" stroke-width="2.0"/>
<circle cx="420.5" cy="748.8" r="3.5" fill="#fff" stroke="#000" stroke-width="2.0"/>
<circle cx="423.2" cy="749.6" r="3.5" fill="#fff" stroke="#000" stroke-width="2.0"/>
<circle cx="453.1" cy="747.4" r="3.5" fill="#fff" stroke="#000" stroke-width="2.0"/>
<circle cx="456.9" cy="745.6" r="3.5" fill="#fff" stroke="#000" stroke-width="2.0"/>
<circle cx="459.6" cy="746.4" r="3.5" fill="#fff" stroke="#000" stroke-width="2.0"/>
<circle cx="468.2" cy="748.9" r="3.5" fill="#fff" stroke="#000" stroke-width="2.0"/>
<circle cx="472.0" cy="747.2" r="3.5" fill="#fff" stroke="#000" stroke-width="2.0"/>
<circle cx="474.8" cy="748.0" r="3.5" fill="#fff" stroke="#000" stroke-width="2.0"/>
<circle cx="483.4" cy="627.1" r="3.5" fill="#fff" stroke="#000" stroke-width="2.0"/>
<circle cx="487.2" cy="625.4" r="3.5" fill="#fff" stroke="#000" stroke-width="2.0"/>
<circle cx="489.9" cy="626.2" r="3.5" fill="#fff" stroke="#000" stroke-width="2.0"/>
<circle cx="498.5" cy="649.3" r="3.5" fill="#fff" stroke="#000" stroke-width="2.0"/>
<circle cx="502.3" cy="647.5" r="3.5" fill="#fff" stroke="#000" stroke-width="2.0"/>
<circle cx="505.1" cy="648.3" r="3.5" fill="#fff" stroke="#000" stroke-width="2.0"/>
<circle cx="513.6" cy="624.0" r="3.5" fill="#fff" stroke="#000" stroke-width="2.0"/>
<circle cx="517.5" cy="622.2" r="3.5" fill="#fff" stroke="#000" stroke-width="2.0"/>
<circle cx="520.2" cy="623.0" r="3.5" fill="#fff" stroke="#000" stroke-width="2.0"/>
<line x1="140.1" y1="540.9" x2="150.6" y2="540.9" stroke="#000" stroke-width="2.5"/>
<text x="137.4" y="549.7" font-size="24" text-anchor="end">150</text>
<line x1="140.1" y1="620.0" x2="150.6" y2="620.0" stroke="#000" stroke-width="2.5"/>
<text x="137.4" y="628.8" font-size="24" text-anchor="end">100</text>
<line x1="140.1" y1="699.1" x2="150.6" y2="699.1" stroke="#000" stroke-width="2.5"/>
<text x="137.4" y="707.9" font-size="24" text-anchor="end">50</text>
<line x1="140.1" y1="778.2" x2="150.6" y2="778.2" stroke="#000" stroke-width="2.5"/>
<text x="137.4" y="787.0" font-size="24" text-anchor="end">0</text>
<text x="341.0" y="506.0" font-size="24.4" text-anchor="middle">CD69<tspan font-size="17.3" dy="-9.8">+</tspan></text>
<text x="300.0" y="551.5" font-size="19.05" text-anchor="middle" font-style="italic">P &lt; 0.0001</text>
<line x1="277.0" y1="564.8" x2="322.7" y2="564.8" stroke="#000" stroke-width="2.1"/>
<text x="290.4" y="591.5" font-size="19.05" text-anchor="middle" font-style="italic">P &lt; 0.0001</text>
<line x1="273.6" y1="604.2" x2="307.6" y2="604.2" stroke="#000" stroke-width="2.1"/>
<text x="203.0" y="623.6" font-size="19.05" text-anchor="middle" font-style="italic">P &lt; 0.0001</text>
<line x1="178.0" y1="635.8" x2="228.8" y2="635.8" stroke="#000" stroke-width="2.1"/>
<text x="201.5" y="666.7" font-size="19.05" text-anchor="middle" font-style="italic">P = 0.3050</text>
<line x1="177.3" y1="674.2" x2="213.6" y2="674.2" stroke="#000" stroke-width="2.1"/>
<text x="395.5" y="585.5" font-size="19.05" text-anchor="middle" font-style="italic">P &lt; 0.0001</text>
<line x1="372.0" y1="598.2" x2="419.7" y2="598.2" stroke="#000" stroke-width="2.1"/>
<text x="388.8" y="625.8" font-size="19.05" text-anchor="middle" font-style="italic">P = 0.0271</text>
<line x1="372.0" y1="637.9" x2="406.0" y2="637.9" stroke="#000" stroke-width="2.1"/>
<text x="483.4" y="560.6" font-size="19.05" text-anchor="middle" font-style="italic">P &lt; 0.0001</text>
<line x1="469.0" y1="569.0" x2="516.7" y2="569.0" stroke="#000" stroke-width="2.1"/>
<text x="483.8" y="605.0" font-size="19.05" text-anchor="middle" font-style="italic">P = 0.3050</text>
<line x1="466.0" y1="616.0" x2="502.4" y2="616.0" stroke="#000" stroke-width="2.1"/>
<text x="195.0" y="813.6" font-size="24.4" text-anchor="middle">Naïve</text>
<text x="291.8" y="813.6" font-size="24.4" text-anchor="middle">Primed</text>
<text x="389.7" y="813.6" font-size="24.4" text-anchor="middle">Naïve</text>
<text x="485.8" y="813.6" font-size="24.4" text-anchor="middle">Primed</text>
<line x1="165.0" y1="837.6" x2="313.0" y2="837.6" stroke="#000" stroke-width="2.2"/>
<line x1="368.8" y1="837.6" x2="516.7" y2="837.6" stroke="#000" stroke-width="2.2"/>
<text x="238.5" y="877.1" font-size="24" text-anchor="middle">48 h</text>
<text x="442.7" y="877.1" font-size="24" text-anchor="middle">72 h</text>
<text x="84.0" y="649.0" font-size="24" text-anchor="middle" transform="rotate(-90 84.0 649.0)">% in CD8<tspan font-size="17.5" dy="-9.8">+</tspan><tspan dy="9.8"> cells</tspan></text>
<text x="580.5" y="506.0" font-size="49" font-weight="bold">d</text>
<rect x="660.6" y="732.0" width="11.1" height="44.7" fill="#fff" stroke="#000" stroke-width="2.4"/>
<rect x="675.8" y="724.1" width="11.1" height="52.6" fill="#d4d4d4" stroke="#000" stroke-width="2.4"/>
<rect x="690.9" y="673.5" width="11.1" height="103.2" fill="#808080" stroke="#000" stroke-width="2.4"/>
<rect x="706.1" y="719.4" width="11.1" height="57.3" fill="url(#hatch)" stroke="#000" stroke-width="2.4"/>
<rect x="721.2" y="720.9" width="11.1" height="55.8" fill="#000" stroke="#000" stroke-width="2.4"/>
<rect x="757.6" y="627.6" width="11.1" height="149.1" fill="#fff" stroke="#000" stroke-width="2.4"/>
<rect x="772.8" y="627.6" width="11.1" height="149.1" fill="#d4d4d4" stroke="#000" stroke-width="2.4"/>
<rect x="787.9" y="622.9" width="11.1" height="153.8" fill="#808080" stroke="#000" stroke-width="2.4"/>
<rect x="803.1" y="627.6" width="11.1" height="149.1" fill="url(#hatch)" stroke="#000" stroke-width="2.4"/>
<rect x="818.2" y="622.9" width="11.1" height="153.8" fill="#000" stroke="#000" stroke-width="2.4"/>
<rect x="854.6" y="711.5" width="11.1" height="65.2" fill="#fff" stroke="#000" stroke-width="2.4"/>
<rect x="869.8" y="694.1" width="11.1" height="82.6" fill="#d4d4d4" stroke="#000" stroke-width="2.4"/>
<rect x="884.9" y="645.0" width="11.1" height="131.7" fill="#808080" stroke="#000" stroke-width="2.4"/>
<rect x="900.1" y="689.3" width="11.1" height="87.4" fill="url(#hatch)" stroke="#000" stroke-width="2.4"/>
<rect x="915.2" y="692.5" width="11.1" height="84.2" fill="#000" stroke="#000" stroke-width="2.4"/>
<rect x="951.6" y="630.8" width="11.1" height="145.9" fill="#fff" stroke="#000" stroke-width="2.4"/>
<rect x="966.8" y="630.8" width="11.1" height="145.9" fill="#d4d4d4" stroke="#000" stroke-width="2.4"/>
<rect x="981.9" y="624.4" width="11.1" height="152.3" fill="#808080" stroke="#000" stroke-width="2.4"/>
<rect x="997.1" y="629.2" width="11.1" height="147.5" fill="url(#hatch)" stroke="#000" stroke-width="2.4"/>
<rect x="1012.2" y="624.4" width="11.1" height="152.3" fill="#000" stroke="#000" stroke-width="2.4"/>
<rect x="650.9" y="523.2" width="381.2" height="253.5" fill="none" stroke="#000" stroke-width="2.5"/>
<line x1="640.4" y1="776.7" x2="1033.3" y2="776.7" stroke="#000" stroke-width="2.5"/>
<circle cx="662.9" cy="731.6" r="3.5" fill="#fff" stroke="#000" stroke-width="2.0"/>
<circle cx="666.8" cy="729.9" r="3.5" fill="#fff" stroke="#000" stroke-width="2.0"/>
<circle cx="669.5" cy="730.7" r="3.5" fill="#fff" stroke="#000" stroke-width="2.0"/>
<circle cx="678.1" cy="723.7" r="3.5" fill="#fff" stroke="#000" stroke-width="2.0"/>
<circle cx="681.9" cy="722.0" r="3.5" fill="#fff" stroke="#000" stroke-width="2.0"/>
<circle cx="684.7" cy="722.8" r="3.5" fill="#fff" stroke="#000" stroke-width="2.0"/>
<circle cx="693.2" cy="673.1" r="3.5" fill="#fff" stroke="#000" stroke-width="2.0"/>
<circle cx="697.0" cy="671.3" r="3.5" fill="#fff" stroke="#000" stroke-width="2.0"/>
<circle cx="699.8" cy="672.1" r="3.5" fill="#fff" stroke="#000" stroke-width="2.0"/>
<circle cx="708.4" cy="719.0" r="3.5" fill="#fff" stroke="#000" stroke-width="2.0"/>
<circle cx="712.2" cy="717.2" r="3.5" fill="#fff" stroke="#000" stroke-width="2.0"/>
<circle cx="715.0" cy="718.0" r="3.5" fill="#fff" stroke="#000" stroke-width="2.0"/>
<circle cx="723.5" cy="720.5" r="3.5" fill="#fff" stroke="#000" stroke-width="2.0"/>
<circle cx="727.4" cy="718.8" r="3.5" fill="#fff" stroke="#000" stroke-width="2.0"/>
<circle cx="730.1" cy="719.6" r="3.5" fill="#fff" stroke="#000" stroke-width="2.0"/>
<circle cx="759.9" cy="627.2" r="3.5" fill="#fff" stroke="#000" stroke-width="2.0"/>
<circle cx="763.8" cy="625.5" r="3.5" fill="#fff" stroke="#000" stroke-width="2.0"/>
<circle cx="766.5" cy="626.3" r="3.5" fill="#fff" stroke="#000" stroke-width="2.0"/>
<circle cx="775.1" cy="627.2" r="3.5" fill="#fff" stroke="#000" stroke-width="2.0"/>
<circle cx="778.9" cy="625.5" r="3.5" fill="#fff" stroke="#000" stroke-width="2.0"/>
<circle cx="781.7" cy="626.3" r="3.5" fill="#fff" stroke="#000" stroke-width="2.0"/>
<circle cx="790.2" cy="622.5" r="3.5" fill="#fff" stroke="#000" stroke-width="2.0"/>
<circle cx="794.0" cy="620.7" r="3.5" fill="#fff" stroke="#000" stroke-width="2.0"/>
<circle cx="796.8" cy="621.5" r="3.5" fill="#fff" stroke="#000" stroke-width="2.0"/>
<circle cx="805.4" cy="627.2" r="3.5" fill="#fff" stroke="#000" stroke-width="2.0"/>
<circle cx="809.2" cy="625.5" r="3.5" fill="#fff" stroke="#000" stroke-width="2.0"/>
<circle cx="812.0" cy="626.3" r="3.5" fill="#fff" stroke="#000" stroke-width="2.0"/>
<circle cx="820.5" cy="622.5" r="3.5" fill="#fff" stroke="#000" stroke-width="2.0"/>
<circle cx="824.4" cy="620.7" r="3.5" fill="#fff" stroke="#000" stroke-width="2.0"/>
<circle cx="827.1" cy="621.5" r="3.5" fill="#fff" stroke="#000" stroke-width="2.0"/>
<circle cx="856.9" cy="711.0" r="3.5" fill="#fff" stroke="#000" stroke-width="2.0"/>
<circle cx="860.8" cy="709.3" r="3.5" fill="#fff" stroke="#000" stroke-width="2.0"/>
<circle cx="863.5" cy="710.1" r="3.5" fill="#fff" stroke="#000" stroke-width="2.0"/>
<circle cx="872.1" cy="693.6" r="3.5" fill="#fff" stroke="#000" stroke-width="2.0"/>
<circle cx="875.9" cy="691.9" r="3.5" fill="#fff" stroke="#000" stroke-width="2.0"/>
<circle cx="878.7" cy="692.7" r="3.5" fill="#fff" stroke="#000" stroke-width="2.0"/>
<circle cx="887.2" cy="644.6" r="3.5" fill="#fff" stroke="#000" stroke-width="2.0"/>
<circle cx="891.0" cy="642.9" r="3.5" fill="#fff" stroke="#000" stroke-width="2.0"/>
<circle cx="893.8" cy="643.7" r="3.5" fill="#fff" stroke="#000" stroke-width="2.0"/>
<circle cx="902.1" cy="684.9" r="3.5" fill="#fff" stroke="#000" stroke-width="2.0"/>
<circle cx="902.6" cy="692.9" r="3.5" fill="#fff" stroke="#000" stroke-width="2.0"/>
<circle cx="909.1" cy="688.1" r="3.5" fill="#fff" stroke="#000" stroke-width="2.0"/>
<circle cx="917.8" cy="686.5" r="3.5" fill="#fff" stroke="#000" stroke-width="2.0"/>
<circle cx="924.2" cy="689.7" r="3.5" fill="#fff" stroke="#000" stroke-width="2.0"/>
<circle cx="922.8" cy="700.8" r="3.5" fill="#fff" stroke="#000" stroke-width="2.0"/>
<circle cx="953.9" cy="630.4" r="3.5" fill="#fff" stroke="#000" stroke-width="2.0"/>
<circle cx="957.8" cy="628.6" r="3.5" fill="#fff" stroke="#000" stroke-width="2.0"/>
<circle cx="960.5" cy="629.4" r="3.5" fill="#fff" stroke="#000" stroke-width="2.0"/>
<circle cx="969.1" cy="630.4" r="3.5" fill="#fff" stroke="#000" stroke-width="2.0"/>
<circle cx="972.9" cy="628.6" r="3.5" fill="#fff" stroke="#000" stroke-width="2.0"/>
<circle cx="975.7" cy="629.4" r="3.5" fill="#fff" stroke="#000" stroke-width="2.0"/>
<circle cx="984.2" cy="624.0" r="3.5" fill="#fff" stroke="#000" stroke-width="2.0"/>
<circle cx="988.0" cy="622.3" r="3.5" fill="#fff" stroke="#000" stroke-width="2.0"/>
<circle cx="990.8" cy="623.1" r="3.5" fill="#fff" stroke="#000" stroke-width="2.0"/>
<circle cx="999.4" cy="628.8" r="3.5" fill="#fff" stroke="#000" stroke-width="2.0"/>
<circle cx="1003.2" cy="627.0" r="3.5" fill="#fff" stroke="#000" stroke-width="2.0"/>
<circle cx="1006.0" cy="627.8" r="3.5" fill="#fff" stroke="#000" stroke-width="2.0"/>
<circle cx="1014.5" cy="624.0" r="3.5" fill="#fff" stroke="#000" stroke-width="2.0"/>
<circle cx="1018.4" cy="622.3" r="3.5" fill="#fff" stroke="#000" stroke-width="2.0"/>
<circle cx="1021.1" cy="623.1" r="3.5" fill="#fff" stroke="#000" stroke-width="2.0"/>
<line x1="640.4" y1="539.4" x2="650.9" y2="539.4" stroke="#000" stroke-width="2.5"/>
<text x="637.5" y="548.2" font-size="24" text-anchor="end">150</text>
<line x1="640.4" y1="618.5" x2="650.9" y2="618.5" stroke="#000" stroke-width="2.5"/>
<text x="637.5" y="627.3" font-size="24" text-anchor="end">100</text>
<line x1="640.4" y1="697.6" x2="650.9" y2="697.6" stroke="#000" stroke-width="2.5"/>
<text x="637.5" y="706.4" font-size="24" text-anchor="end">50</text>
<line x1="640.4" y1="776.7" x2="650.9" y2="776.7" stroke="#000" stroke-width="2.5"/>
<text x="637.5" y="785.5" font-size="24" text-anchor="end">0</text>
<text x="841.0" y="504.5" font-size="24.4" text-anchor="middle">PD-1<tspan font-size="17.3" dy="-9.8">+</tspan></text>
<text x="793.4" y="556.0" font-size="19.05" text-anchor="middle" font-style="italic">P &lt; 0.0001</text>
<line x1="762.4" y1="568.2" x2="824.5" y2="568.2" stroke="#000" stroke-width="2.1"/>
<text x="786.5" y="597.6" font-size="19.05" text-anchor="middle" font-style="italic">P = 0.9747</text>
<line x1="763.3" y1="609.7" x2="810.3" y2="609.7" stroke="#000" stroke-width="2.1"/>
<text x="983.5" y="557.6" font-size="19.05" text-anchor="middle" font-style="italic">P &lt; 0.0001</text>
<line x1="951.0" y1="570.3" x2="1017.0" y2="570.3" stroke="#000" stroke-width="2.1"/>
<text x="978.2" y="597.6" font-size="19.05" text-anchor="middle" font-style="italic">P = 0.0056</text>
<line x1="954.0" y1="609.7" x2="1001.8" y2="609.7" stroke="#000" stroke-width="2.1"/>
<text x="696.0" y="812.0" font-size="24.4" text-anchor="middle">Naïve</text>
<text x="792.3" y="812.0" font-size="24.4" text-anchor="middle">Primed</text>
<text x="890.0" y="812.0" font-size="24.4" text-anchor="middle">Naïve</text>
<text x="985.9" y="812.0" font-size="24.4" text-anchor="middle">Primed</text>
<line x1="665.5" y1="835.8" x2="813.3" y2="835.8" stroke="#000" stroke-width="2.2"/>
<line x1="869.4" y1="835.8" x2="1017.0" y2="835.8" stroke="#000" stroke-width="2.2"/>
<text x="739.0" y="875.5" font-size="24" text-anchor="middle">48 h</text>
<text x="943.0" y="875.5" font-size="24" text-anchor="middle">72 h</text>
<text x="582.6" y="647.0" font-size="24" text-anchor="middle" transform="rotate(-90 582.6 647.0)">% in CD8<tspan font-size="17.5" dy="-9.8">+</tspan><tspan dy="9.8"> cells</tspan></text>
<text x="1084.0" y="501.5" font-size="49" font-weight="bold">e</text>
<rect x="1183.0" y="774.7" width="11.1" height="2.0" fill="#fff" stroke="#000" stroke-width="2.4"/>
<line x1="1203.7" y1="727.7" x2="1203.7" y2="749.8" stroke="#000" stroke-width="2.2"/>
<line x1="1200.2" y1="727.7" x2="1207.2" y2="727.7" stroke="#000" stroke-width="2.2"/>
<rect x="1198.2" y="751.0" width="11.1" height="25.7" fill="#d4d4d4" stroke="#000" stroke-width="2.4"/>
<line x1="1218.8" y1="678.6" x2="1218.8" y2="703.9" stroke="#000" stroke-width="2.2"/>
<line x1="1215.3" y1="678.6" x2="1222.3" y2="678.6" stroke="#000" stroke-width="2.2"/>
<rect x="1213.3" y="705.1" width="11.1" height="71.6" fill="#808080" stroke="#000" stroke-width="2.4"/>
<rect x="1228.5" y="771.6" width="11.1" height="5.1" fill="url(#hatch)" stroke="#000" stroke-width="2.4"/>
<line x1="1249.1" y1="749.8" x2="1249.1" y2="757.7" stroke="#000" stroke-width="2.2"/>
<line x1="1245.6" y1="749.8" x2="1252.6" y2="749.8" stroke="#000" stroke-width="2.2"/>
<rect x="1243.6" y="758.9" width="11.1" height="17.8" fill="#000" stroke="#000" stroke-width="2.4"/>
<rect x="1310.3" y="747.8" width="11.1" height="28.9" fill="#808080" stroke="#000" stroke-width="2.4"/>
<rect x="1325.5" y="776.3" width="11.1" height="0.5" fill="url(#hatch)" stroke="#000" stroke-width="2.4"/>
<rect x="1340.6" y="727.3" width="11.1" height="49.4" fill="#000" stroke="#000" stroke-width="2.4"/>
<rect x="1377.0" y="765.2" width="11.1" height="11.5" fill="#fff" stroke="#000" stroke-width="2.4"/>
<line x1="1397.7" y1="741.9" x2="1397.7" y2="749.8" stroke="#000" stroke-width="2.2"/>
<line x1="1394.2" y1="741.9" x2="1401.2" y2="741.9" stroke="#000" stroke-width="2.2"/>
<rect x="1392.2" y="751.0" width="11.1" height="25.7" fill="#d4d4d4" stroke="#000" stroke-width="2.4"/>
<rect x="1407.3" y="645.0" width="11.1" height="131.7" fill="#808080" stroke="#000" stroke-width="2.4"/>
<rect x="1422.5" y="762.1" width="11.1" height="14.6" fill="url(#hatch)" stroke="#000" stroke-width="2.4"/>
<line x1="1443.1" y1="745.1" x2="1443.1" y2="754.6" stroke="#000" stroke-width="2.2"/>
<line x1="1439.6" y1="745.1" x2="1446.6" y2="745.1" stroke="#000" stroke-width="2.2"/>
<rect x="1437.6" y="755.8" width="11.1" height="20.9" fill="#000" stroke="#000" stroke-width="2.4"/>
<line x1="1479.5" y1="703.9" x2="1479.5" y2="732.4" stroke="#000" stroke-width="2.2"/>
<line x1="1476.0" y1="703.9" x2="1483.0" y2="703.9" stroke="#000" stroke-width="2.2"/>
<rect x="1474.0" y="733.6" width="11.1" height="43.1" fill="#fff" stroke="#000" stroke-width="2.4"/>
<line x1="1494.7" y1="716.6" x2="1494.7" y2="732.4" stroke="#000" stroke-width="2.2"/>
<line x1="1491.2" y1="716.6" x2="1498.2" y2="716.6" stroke="#000" stroke-width="2.2"/>
<rect x="1489.2" y="733.6" width="11.1" height="43.1" fill="#d4d4d4" stroke="#000" stroke-width="2.4"/>
<rect x="1504.3" y="645.0" width="11.1" height="131.7" fill="#808080" stroke="#000" stroke-width="2.4"/>
<rect x="1519.5" y="657.7" width="11.1" height="119.0" fill="url(#hatch)" stroke="#000" stroke-width="2.4"/>
<rect x="1534.6" y="638.7" width="11.1" height="138.0" fill="#000" stroke="#000" stroke-width="2.4"/>
<rect x="1174.0" y="523.2" width="380.2" height="253.5" fill="none" stroke="#000" stroke-width="2.5"/>
<line x1="1163.5" y1="776.7" x2="1555.4" y2="776.7" stroke="#000" stroke-width="2.5"/>
<circle cx="1185.5" cy="773.5" r="3.5" fill="#fff" stroke="#000" stroke-width="2.0"/>
<circle cx="1191.5" cy="772.7" r="3.5" fill="#fff" stroke="#000" stroke-width="2.0"/>
<circle cx="1203.7" cy="727.7" r="3.5" fill="#fff" stroke="#000" stroke-width="2.0"/>
<circle cx="1200.2" cy="760.9" r="3.5" fill="#fff" stroke="#000" stroke-width="2.0"/>
<circle cx="1207.2" cy="756.1" r="3.5" fill="#fff" stroke="#000" stroke-width="2.0"/>
<circle cx="1218.8" cy="678.6" r="3.5" fill="#fff" stroke="#000" stroke-width="2.0"/>
<circle cx="1218.8" cy="708.7" r="3.5" fill="#fff" stroke="#000" stroke-width="2.0"/>
<circle cx="1218.8" cy="721.3" r="3.5" fill="#fff" stroke="#000" stroke-width="2.0"/>
<circle cx="1231.0" cy="772.0" r="3.5" fill="#fff" stroke="#000" stroke-width="2.0"/>
<circle cx="1235.0" cy="768.8" r="3.5" fill="#fff" stroke="#000" stroke-width="2.0"/>
<circle cx="1238.0" cy="772.0" r="3.5" fill="#fff" stroke="#000" stroke-width="2.0"/>
<circle cx="1248.1" cy="749.8" r="3.5" fill="#fff" stroke="#000" stroke-width="2.0"/>
<circle cx="1253.1" cy="753.0" r="3.5" fill="#fff" stroke="#000" stroke-width="2.0"/>
<circle cx="1249.1" cy="768.8" r="3.5" fill="#fff" stroke="#000" stroke-width="2.0"/>
<circle cx="1281.5" cy="776.7" r="3.5" fill="#fff" stroke="#000" stroke-width="2.0"/>
<circle cx="1285.5" cy="776.7" r="3.5" fill="#fff" stroke="#000" stroke-width="2.0"/>
<circle cx="1289.5" cy="776.7" r="3.5" fill="#fff" stroke="#000" stroke-width="2.0"/>
<circle cx="1296.7" cy="776.7" r="3.5" fill="#fff" stroke="#000" stroke-width="2.0"/>
<circle cx="1300.7" cy="776.7" r="3.5" fill="#fff" stroke="#000" stroke-width="2.0"/>
<circle cx="1304.7" cy="776.7" r="3.5" fill="#fff" stroke="#000" stroke-width="2.0"/>
<circle cx="1312.3" cy="747.4" r="3.5" fill="#fff" stroke="#000" stroke-width="2.0"/>
<circle cx="1315.8" cy="745.9" r="3.5" fill="#fff" stroke="#000" stroke-width="2.0"/>
<circle cx="1319.3" cy="745.9" r="3.5" fill="#fff" stroke="#000" stroke-width="2.0"/>
<circle cx="1327.0" cy="775.1" r="3.5" fill="#fff" stroke="#000" stroke-width="2.0"/>
<circle cx="1331.0" cy="773.5" r="3.5" fill="#fff" stroke="#000" stroke-width="2.0"/>
<circle cx="1334.0" cy="774.3" r="3.5" fill="#fff" stroke="#000" stroke-width="2.0"/>
<circle cx="1342.6" cy="728.4" r="3.5" fill="#fff" stroke="#000" stroke-width="2.0"/>
<circle cx="1346.6" cy="721.3" r="3.5" fill="#fff" stroke="#000" stroke-width="2.0"/>
<circle cx="1350.1" cy="726.1" r="3.5" fill="#fff" stroke="#000" stroke-width="2.0"/>
<circle cx="1379.0" cy="764.0" r="3.5" fill="#fff" stroke="#000" stroke-width="2.0"/>
<circle cx="1382.5" cy="762.5" r="3.5" fill="#fff" stroke="#000" stroke-width="2.0"/>
<circle cx="1386.0" cy="762.5" r="3.5" fill="#fff" stroke="#000" stroke-width="2.0"/>
<circle cx="1396.7" cy="743.5" r="3.5" fill="#fff" stroke="#000" stroke-width="2.0"/>
<circle cx="1395.7" cy="752.2" r="3.5" fill="#fff" stroke="#000" stroke-width="2.0"/>
<circle cx="1402.7" cy="745.9" r="3.5" fill="#fff" stroke="#000" stroke-width="2.0"/>
<circle cx="1409.8" cy="640.6" r="3.5" fill="#fff" stroke="#000" stroke-width="2.0"/>
<circle cx="1416.8" cy="641.4" r="3.5" fill="#fff" stroke="#000" stroke-width="2.0"/>
<circle cx="1413.8" cy="653.3" r="3.5" fill="#fff" stroke="#000" stroke-width="2.0"/>
<circle cx="1426.0" cy="756.1" r="3.5" fill="#fff" stroke="#000" stroke-width="2.0"/>
<circle cx="1430.0" cy="758.5" r="3.5" fill="#fff" stroke="#000" stroke-width="2.0"/>
<circle cx="1430.0" cy="767.2" r="3.5" fill="#fff" stroke="#000" stroke-width="2.0"/>
<circle cx="1442.1" cy="744.3" r="3.5" fill="#fff" stroke="#000" stroke-width="2.0"/>
<circle cx="1448.1" cy="751.4" r="3.5" fill="#fff" stroke="#000" stroke-width="2.0"/>
<circle cx="1444.1" cy="762.5" r="3.5" fill="#fff" stroke="#000" stroke-width="2.0"/>
<circle cx="1479.5" cy="703.9" r="3.5" fill="#fff" stroke="#000" stroke-width="2.0"/>
<circle cx="1476.5" cy="749.8" r="3.5" fill="#fff" stroke="#000" stroke-width="2.0"/>
<circle cx="1481.5" cy="743.5" r="3.5" fill="#fff" stroke="#000" stroke-width="2.0"/>
<circle cx="1494.7" cy="715.8" r="3.5" fill="#fff" stroke="#000" stroke-width="2.0"/>
<circle cx="1494.7" cy="727.7" r="3.5" fill="#fff" stroke="#000" stroke-width="2.0"/>
<circle cx="1494.7" cy="754.6" r="3.5" fill="#fff" stroke="#000" stroke-width="2.0"/>
<circle cx="1506.3" cy="642.2" r="3.5" fill="#fff" stroke="#000" stroke-width="2.0"/>
<circle cx="1513.3" cy="643.8" r="3.5" fill="#fff" stroke="#000" stroke-width="2.0"/>
<circle cx="1509.8" cy="653.3" r="3.5" fill="#fff" stroke="#000" stroke-width="2.0"/>
<circle cx="1522.0" cy="659.6" r="3.5" fill="#fff" stroke="#000" stroke-width="2.0"/>
<circle cx="1525.0" cy="654.9" r="3.5" fill="#fff" stroke="#000" stroke-width="2.0"/>
<circle cx="1528.5" cy="656.5" r="3.5" fill="#fff" stroke="#000" stroke-width="2.0"/>
<circle cx="1536.6" cy="637.5" r="3.5" fill="#fff" stroke="#000" stroke-width="2.0"/>
<circle cx="1540.1" cy="631.2" r="3.5" fill="#fff" stroke="#000" stroke-width="2.0"/>
<circle cx="1543.6" cy="636.7" r="3.5" fill="#fff" stroke="#000" stroke-width="2.0"/>
<line x1="1163.5" y1="539.4" x2="1174.0" y2="539.4" stroke="#000" stroke-width="2.5"/>
<text x="1160.5" y="548.2" font-size="24" text-anchor="end">150</text>
<line x1="1163.5" y1="618.5" x2="1174.0" y2="618.5" stroke="#000" stroke-width="2.5"/>
<text x="1160.5" y="627.3" font-size="24" text-anchor="end">100</text>
<line x1="1163.5" y1="697.6" x2="1174.0" y2="697.6" stroke="#000" stroke-width="2.5"/>
<text x="1160.5" y="706.4" font-size="24" text-anchor="end">50</text>
<line x1="1163.5" y1="776.7" x2="1174.0" y2="776.7" stroke="#000" stroke-width="2.5"/>
<text x="1160.5" y="785.5" font-size="24" text-anchor="end">0</text>
<text x="1363.8" y="504.5" font-size="24.4" text-anchor="middle">IFN-γ<tspan font-size="17.3" dy="-9.8">+</tspan></text>
<text x="1227.5" y="610.0" font-size="19.05" text-anchor="middle" font-style="italic">P = 0.9395</text>
<line x1="1203.6" y1="622.7" x2="1250.6" y2="622.7" stroke="#000" stroke-width="2.1"/>
<text x="1221.5" y="654.5" font-size="19.05" text-anchor="middle" font-style="italic">P = 0.3286</text>
<line x1="1204.5" y1="667.3" x2="1238.5" y2="667.3" stroke="#000" stroke-width="2.1"/>
<text x="1322.5" y="665.0" font-size="19.05" text-anchor="middle" font-style="italic">P &lt; 0.0001</text>
<line x1="1299.0" y1="677.3" x2="1346.0" y2="677.3" stroke="#000" stroke-width="2.1"/>
<text x="1331.5" y="699.4" font-size="19.05" text-anchor="middle" font-style="italic">P &lt; 0.0001</text>
<line x1="1315.0" y1="711.5" x2="1348.5" y2="711.5" stroke="#000" stroke-width="2.1"/>
<text x="1418.0" y="547.6" font-size="19.05" text-anchor="middle" font-style="italic">P = 0.7568</text>
<line x1="1399.7" y1="560.0" x2="1437.6" y2="560.0" stroke="#000" stroke-width="2.1"/>
<text x="1411.8" y="605.0" font-size="19.05" text-anchor="middle" font-style="italic">P = 0.1170</text>
<line x1="1395.0" y1="617.3" x2="1428.0" y2="617.3" stroke="#000" stroke-width="2.1"/>
<text x="1505.5" y="581.8" font-size="19.05" text-anchor="middle" font-style="italic">P = 0.0001</text>
<line x1="1491.0" y1="591.2" x2="1541.5" y2="591.2" stroke="#000" stroke-width="2.1"/>
<text x="1507.0" y="620.3" font-size="19.05" text-anchor="middle" font-style="italic">P = 0.0006</text>
<line x1="1493.6" y1="631.0" x2="1525.8" y2="631.0" stroke="#000" stroke-width="2.1"/>
<text x="1218.0" y="812.0" font-size="24.4" text-anchor="middle">Naïve</text>
<text x="1314.5" y="812.0" font-size="24.4" text-anchor="middle">Primed</text>
<text x="1412.0" y="812.0" font-size="24.4" text-anchor="middle">Naïve</text>
<text x="1508.8" y="812.0" font-size="24.4" text-anchor="middle">Primed</text>
<line x1="1188.0" y1="835.8" x2="1335.5" y2="835.8" stroke="#000" stroke-width="2.2"/>
<line x1="1391.5" y1="835.8" x2="1539.0" y2="835.8" stroke="#000" stroke-width="2.2"/>
<text x="1261.0" y="875.5" font-size="24" text-anchor="middle">48 h</text>
<text x="1465.0" y="875.5" font-size="24" text-anchor="middle">72 h</text>
<text x="1106.0" y="647.0" font-size="24" text-anchor="middle" transform="rotate(-90 1106.0 647.0)">% in CD8<tspan font-size="17.5" dy="-9.8">+</tspan><tspan dy="9.8"> cells</tspan></text>
<rect x="1627.5" y="775.3" width="11.1" height="2.0" fill="#fff" stroke="#000" stroke-width="2.4"/>
<line x1="1648.2" y1="729.8" x2="1648.2" y2="750.4" stroke="#000" stroke-width="2.2"/>
<line x1="1644.7" y1="729.8" x2="1651.7" y2="729.8" stroke="#000" stroke-width="2.2"/>
<rect x="1642.7" y="751.6" width="11.1" height="25.7" fill="#d4d4d4" stroke="#000" stroke-width="2.4"/>
<line x1="1663.3" y1="680.8" x2="1663.3" y2="698.2" stroke="#000" stroke-width="2.2"/>
<line x1="1659.8" y1="680.8" x2="1666.8" y2="680.8" stroke="#000" stroke-width="2.2"/>
<rect x="1657.8" y="699.4" width="11.1" height="77.9" fill="#808080" stroke="#000" stroke-width="2.4"/>
<rect x="1673.0" y="772.2" width="11.1" height="5.1" fill="url(#hatch)" stroke="#000" stroke-width="2.4"/>
<line x1="1693.6" y1="750.4" x2="1693.6" y2="758.3" stroke="#000" stroke-width="2.2"/>
<line x1="1690.1" y1="750.4" x2="1697.1" y2="750.4" stroke="#000" stroke-width="2.2"/>
<rect x="1688.1" y="759.5" width="11.1" height="17.8" fill="#000" stroke="#000" stroke-width="2.4"/>
<rect x="1724.5" y="772.2" width="11.1" height="5.1" fill="#fff" stroke="#000" stroke-width="2.4"/>
<rect x="1739.7" y="772.2" width="11.1" height="5.1" fill="#d4d4d4" stroke="#000" stroke-width="2.4"/>
<line x1="1760.3" y1="706.1" x2="1760.3" y2="717.2" stroke="#000" stroke-width="2.2"/>
<line x1="1756.8" y1="706.1" x2="1763.8" y2="706.1" stroke="#000" stroke-width="2.2"/>
<rect x="1754.8" y="718.4" width="11.1" height="58.9" fill="#808080" stroke="#000" stroke-width="2.4"/>
<rect x="1770.0" y="750.0" width="11.1" height="27.3" fill="url(#hatch)" stroke="#000" stroke-width="2.4"/>
<rect x="1785.1" y="651.9" width="11.1" height="125.4" fill="#000" stroke="#000" stroke-width="2.4"/>
<rect x="1821.5" y="770.6" width="11.1" height="6.7" fill="#fff" stroke="#000" stroke-width="2.4"/>
<rect x="1836.7" y="757.9" width="11.1" height="19.4" fill="#d4d4d4" stroke="#000" stroke-width="2.4"/>
<rect x="1851.8" y="645.6" width="11.1" height="131.7" fill="#808080" stroke="#000" stroke-width="2.4"/>
<rect x="1867.0" y="759.5" width="11.1" height="17.8" fill="url(#hatch)" stroke="#000" stroke-width="2.4"/>
<line x1="1887.6" y1="745.7" x2="1887.6" y2="753.6" stroke="#000" stroke-width="2.2"/>
<line x1="1884.1" y1="745.7" x2="1891.1" y2="745.7" stroke="#000" stroke-width="2.2"/>
<rect x="1882.1" y="754.8" width="11.1" height="22.5" fill="#000" stroke="#000" stroke-width="2.4"/>
<line x1="1924.0" y1="687.1" x2="1924.0" y2="726.7" stroke="#000" stroke-width="2.2"/>
<line x1="1920.5" y1="687.1" x2="1927.5" y2="687.1" stroke="#000" stroke-width="2.2"/>
<rect x="1918.5" y="727.9" width="11.1" height="49.4" fill="#fff" stroke="#000" stroke-width="2.4"/>
<line x1="1939.2" y1="698.2" x2="1939.2" y2="723.5" stroke="#000" stroke-width="2.2"/>
<line x1="1935.7" y1="698.2" x2="1942.7" y2="698.2" stroke="#000" stroke-width="2.2"/>
<rect x="1933.7" y="724.7" width="11.1" height="52.6" fill="#d4d4d4" stroke="#000" stroke-width="2.4"/>
<rect x="1948.8" y="655.1" width="11.1" height="122.2" fill="#808080" stroke="#000" stroke-width="2.4"/>
<rect x="1964.0" y="670.9" width="11.1" height="106.4" fill="url(#hatch)" stroke="#000" stroke-width="2.4"/>
<rect x="1979.1" y="639.3" width="11.1" height="138.0" fill="#000" stroke="#000" stroke-width="2.4"/>
<rect x="1618.7" y="524.1" width="379.9" height="253.2" fill="none" stroke="#000" stroke-width="2.5"/>
<line x1="1608.2" y1="777.3" x2="1999.8" y2="777.3" stroke="#000" stroke-width="2.5"/>
<circle cx="1630.0" cy="774.1" r="3.5" fill="#fff" stroke="#000" stroke-width="2.0"/>
<circle cx="1636.0" cy="773.3" r="3.5" fill="#fff" stroke="#000" stroke-width="2.0"/>
<circle cx="1648.2" cy="729.8" r="3.5" fill="#fff" stroke="#000" stroke-width="2.0"/>
<circle cx="1644.7" cy="759.9" r="3.5" fill="#fff" stroke="#000" stroke-width="2.0"/>
<circle cx="1651.7" cy="757.5" r="3.5" fill="#fff" stroke="#000" stroke-width="2.0"/>
<circle cx="1663.3" cy="680.8" r="3.5" fill="#fff" stroke="#000" stroke-width="2.0"/>
<circle cx="1663.3" cy="702.9" r="3.5" fill="#fff" stroke="#000" stroke-width="2.0"/>
<circle cx="1663.3" cy="710.9" r="3.5" fill="#fff" stroke="#000" stroke-width="2.0"/>
<circle cx="1675.5" cy="772.6" r="3.5" fill="#fff" stroke="#000" stroke-width="2.0"/>
<circle cx="1679.5" cy="768.6" r="3.5" fill="#fff" stroke="#000" stroke-width="2.0"/>
<circle cx="1682.5" cy="772.6" r="3.5" fill="#fff" stroke="#000" stroke-width="2.0"/>
<circle cx="1692.6" cy="749.6" r="3.5" fill="#fff" stroke="#000" stroke-width="2.0"/>
<circle cx="1697.6" cy="753.6" r="3.5" fill="#fff" stroke="#000" stroke-width="2.0"/>
<circle cx="1693.6" cy="767.8" r="3.5" fill="#fff" stroke="#000" stroke-width="2.0"/>
<circle cx="1730.0" cy="761.5" r="3.5" fill="#fff" stroke="#000" stroke-width="2.0"/>
<circle cx="1726.0" cy="772.6" r="3.5" fill="#fff" stroke="#000" stroke-width="2.0"/>
<circle cx="1733.0" cy="772.6" r="3.5" fill="#fff" stroke="#000" stroke-width="2.0"/>
<circle cx="1741.7" cy="772.6" r="3.5" fill="#fff" stroke="#000" stroke-width="2.0"/>
<circle cx="1745.2" cy="769.4" r="3.5" fill="#fff" stroke="#000" stroke-width="2.0"/>
<circle cx="1748.7" cy="771.8" r="3.5" fill="#fff" stroke="#000" stroke-width="2.0"/>
<circle cx="1761.3" cy="706.1" r="3.5" fill="#fff" stroke="#000" stroke-width="2.0"/>
<circle cx="1757.3" cy="721.1" r="3.5" fill="#fff" stroke="#000" stroke-width="2.0"/>
<circle cx="1764.3" cy="720.3" r="3.5" fill="#fff" stroke="#000" stroke-width="2.0"/>
<circle cx="1772.0" cy="750.4" r="3.5" fill="#fff" stroke="#000" stroke-width="2.0"/>
<circle cx="1776.0" cy="743.3" r="3.5" fill="#fff" stroke="#000" stroke-width="2.0"/>
<circle cx="1779.5" cy="746.5" r="3.5" fill="#fff" stroke="#000" stroke-width="2.0"/>
<circle cx="1789.6" cy="642.0" r="3.5" fill="#fff" stroke="#000" stroke-width="2.0"/>
<circle cx="1794.6" cy="649.2" r="3.5" fill="#fff" stroke="#000" stroke-width="2.0"/>
<circle cx="1790.6" cy="655.5" r="3.5" fill="#fff" stroke="#000" stroke-width="2.0"/>
<circle cx="1823.0" cy="768.6" r="3.5" fill="#fff" stroke="#000" stroke-width="2.0"/>
<circle cx="1827.0" cy="767.0" r="3.5" fill="#fff" stroke="#000" stroke-width="2.0"/>
<circle cx="1830.5" cy="769.4" r="3.5" fill="#fff" stroke="#000" stroke-width="2.0"/>
<circle cx="1838.7" cy="757.5" r="3.5" fill="#fff" stroke="#000" stroke-width="2.0"/>
<circle cx="1842.7" cy="753.6" r="3.5" fill="#fff" stroke="#000" stroke-width="2.0"/>
<circle cx="1846.2" cy="755.2" r="3.5" fill="#fff" stroke="#000" stroke-width="2.0"/>
<circle cx="1854.3" cy="642.8" r="3.5" fill="#fff" stroke="#000" stroke-width="2.0"/>
<circle cx="1861.3" cy="643.6" r="3.5" fill="#fff" stroke="#000" stroke-width="2.0"/>
<circle cx="1858.3" cy="653.9" r="3.5" fill="#fff" stroke="#000" stroke-width="2.0"/>
<circle cx="1869.5" cy="755.2" r="3.5" fill="#fff" stroke="#000" stroke-width="2.0"/>
<circle cx="1876.0" cy="755.9" r="3.5" fill="#fff" stroke="#000" stroke-width="2.0"/>
<circle cx="1873.5" cy="764.6" r="3.5" fill="#fff" stroke="#000" stroke-width="2.0"/>
<circle cx="1886.6" cy="744.9" r="3.5" fill="#fff" stroke="#000" stroke-width="2.0"/>
<circle cx="1892.6" cy="752.0" r="3.5" fill="#fff" stroke="#000" stroke-width="2.0"/>
<circle cx="1888.6" cy="763.1" r="3.5" fill="#fff" stroke="#000" stroke-width="2.0"/>
<circle cx="1924.0" cy="687.1" r="3.5" fill="#fff" stroke="#000" stroke-width="2.0"/>
<circle cx="1924.0" cy="739.3" r="3.5" fill="#fff" stroke="#000" stroke-width="2.0"/>
<circle cx="1924.0" cy="753.6" r="3.5" fill="#fff" stroke="#000" stroke-width="2.0"/>
<circle cx="1939.2" cy="699.0" r="3.5" fill="#fff" stroke="#000" stroke-width="2.0"/>
<circle cx="1939.2" cy="715.6" r="3.5" fill="#fff" stroke="#000" stroke-width="2.0"/>
<circle cx="1939.2" cy="756.7" r="3.5" fill="#fff" stroke="#000" stroke-width="2.0"/>
<circle cx="1950.8" cy="650.7" r="3.5" fill="#fff" stroke="#000" stroke-width="2.0"/>
<circle cx="1957.8" cy="652.3" r="3.5" fill="#fff" stroke="#000" stroke-width="2.0"/>
<circle cx="1954.3" cy="661.8" r="3.5" fill="#fff" stroke="#000" stroke-width="2.0"/>
<circle cx="1966.5" cy="668.1" r="3.5" fill="#fff" stroke="#000" stroke-width="2.0"/>
<circle cx="1973.0" cy="670.5" r="3.5" fill="#fff" stroke="#000" stroke-width="2.0"/>
<circle cx="1969.5" cy="677.6" r="3.5" fill="#fff" stroke="#000" stroke-width="2.0"/>
<circle cx="1981.1" cy="638.1" r="3.5" fill="#fff" stroke="#000" stroke-width="2.0"/>
<circle cx="1984.6" cy="634.1" r="3.5" fill="#fff" stroke="#000" stroke-width="2.0"/>
<circle cx="1988.1" cy="636.5" r="3.5" fill="#fff" stroke="#000" stroke-width="2.0"/>
<line x1="1608.2" y1="540.0" x2="1618.7" y2="540.0" stroke="#000" stroke-width="2.5"/>
<text x="1603.8" y="548.1" font-size="24" text-anchor="end">150</text>
<line x1="1608.2" y1="619.1" x2="1618.7" y2="619.1" stroke="#000" stroke-width="2.5"/>
<text x="1603.8" y="627.2" font-size="24" text-anchor="end">100</text>
<line x1="1608.2" y1="698.2" x2="1618.7" y2="698.2" stroke="#000" stroke-width="2.5"/>
<text x="1603.8" y="706.3" font-size="24" text-anchor="end">50</text>
<line x1="1608.2" y1="777.3" x2="1618.7" y2="777.3" stroke="#000" stroke-width="2.5"/>
<text x="1603.8" y="785.4" font-size="24" text-anchor="end">0</text>
<text x="1809.0" y="504.5" font-size="24.4" text-anchor="middle">TNF-α<tspan font-size="17.3" dy="-9.8">+</tspan></text>
<text x="1671.0" y="617.6" font-size="19.05" text-anchor="middle" font-style="italic">P = 0.8968</text>
<line x1="1649.6" y1="630.3" x2="1693.5" y2="630.3" stroke="#000" stroke-width="2.1"/>
<text x="1664.3" y="654.0" font-size="19.05" text-anchor="middle" font-style="italic">P = 0.2251</text>
<line x1="1649.6" y1="666.0" x2="1681.0" y2="666.0" stroke="#000" stroke-width="2.1"/>
<text x="1767.0" y="583.3" font-size="19.05" text-anchor="middle" font-style="italic">P &lt; 0.0001</text>
<line x1="1745.0" y1="596.4" x2="1790.5" y2="596.4" stroke="#000" stroke-width="2.1"/>
<text x="1776.2" y="619.7" font-size="19.05" text-anchor="middle" font-style="italic">P &lt; 0.0001</text>
<line x1="1767.0" y1="632.7" x2="1787.0" y2="632.7" stroke="#000" stroke-width="2.1"/>
<text x="1736.8" y="688.5" font-size="19.05" text-anchor="middle" font-style="italic">P = 0.0032</text>
<line x1="1742.0" y1="697.9" x2="1776.0" y2="697.9" stroke="#000" stroke-width="2.1"/>
<text x="1865.8" y="551.0" font-size="19.05" text-anchor="middle" font-style="italic">P = 0.9968</text>
<line x1="1840.0" y1="563.6" x2="1892.6" y2="563.6" stroke="#000" stroke-width="2.1"/>
<text x="1856.8" y="600.6" font-size="19.05" text-anchor="middle" font-style="italic">P = 0.9538</text>
<line x1="1839.0" y1="613.0" x2="1875.4" y2="613.0" stroke="#000" stroke-width="2.1"/>
<text x="1950.7" y="582.7" font-size="19.05" text-anchor="middle" font-style="italic">P = 0.0030</text>
<line x1="1937.0" y1="592.4" x2="1987.5" y2="592.4" stroke="#000" stroke-width="2.1"/>
<text x="1950.7" y="627.3" font-size="19.05" text-anchor="middle" font-style="italic">P = 0.0738</text>
<line x1="1936.0" y1="640.0" x2="1967.0" y2="640.0" stroke="#000" stroke-width="2.1"/>
<text x="1662.5" y="812.0" font-size="24.4" text-anchor="middle">Naïve</text>
<text x="1758.7" y="812.0" font-size="24.4" text-anchor="middle">Primed</text>
<text x="1855.7" y="812.0" font-size="24.4" text-anchor="middle">Naïve</text>
<text x="1952.6" y="812.0" font-size="24.4" text-anchor="middle">Primed</text>
<line x1="1632.3" y1="836.2" x2="1780.0" y2="836.2" stroke="#000" stroke-width="2.2"/>
<line x1="1836.0" y1="836.2" x2="1983.5" y2="836.2" stroke="#000" stroke-width="2.2"/>
<text x="1705.7" y="875.5" font-size="24" text-anchor="middle">48 h</text>
<text x="1909.0" y="875.5" font-size="24" text-anchor="middle">72 h</text>
<text x="49.0" y="913.5" font-size="49" font-weight="bold">f</text>
<text x="240.8" y="1050.2" font-size="24.4" text-anchor="end">PBS</text>
<text x="240.8" y="1096.8" font-size="24.4" text-anchor="end">CaCl<tspan font-size="17.1" dy="5.7">2</tspan></text>
<text x="240.8" y="1145.0" font-size="24.4" text-anchor="end">ION/PMA</text>
<text x="240.8" y="1192.4" font-size="24.4" text-anchor="end">DCNP-Ab</text>
<text x="240.8" y="1239.8" font-size="24.4" text-anchor="end">PDCNP-Ab</text>
<text x="240.8" y="1287.2" font-size="24.4" text-anchor="end">PBS</text>
<text x="240.8" y="1333.8" font-size="24.4" text-anchor="end">CaCl<tspan font-size="17.1" dy="5.7">2</tspan></text>
<text x="240.8" y="1382.0" font-size="24.4" text-anchor="end">ION/PMA</text>
<text x="240.8" y="1429.4" font-size="24.4" text-anchor="end">DCNP-Ab</text>
<text x="240.8" y="1476.8" font-size="24.4" text-anchor="end">PDCNP-Ab</text>
<text x="71.4" y="1133.5" font-size="22.7" text-anchor="end">Naïve</text>
<text x="71.4" y="1381.0" font-size="22.7" text-anchor="end">Primed</text>
<line x1="92.6" y1="1036.0" x2="92.6" y2="1230.5" stroke="#000" stroke-width="2.2"/>
<line x1="92.6" y1="1279.0" x2="92.6" y2="1476.5" stroke="#000" stroke-width="2.2"/>
<rect x="258.1" y="1019.4" width="45.0" height="47.7" fill="#eeeefe"/>
<rect x="302.5" y="1019.4" width="48.2" height="47.7" fill="#eeeefe"/>
<rect x="350.1" y="1019.4" width="47.5" height="47.7" fill="#eeeefe"/>
<rect x="258.1" y="1066.5" width="45.0" height="47.7" fill="#eeeefe"/>
<rect x="302.5" y="1066.5" width="48.2" height="47.7" fill="#eeeefe"/>
<rect x="350.1" y="1066.5" width="47.5" height="47.7" fill="#eeeefe"/>
<rect x="258.1" y="1113.7" width="45.0" height="47.7" fill="#d6d6fe"/>
<rect x="302.5" y="1113.7" width="48.2" height="47.7" fill="#cdcdfe"/>
<rect x="350.1" y="1113.7" width="47.5" height="47.7" fill="#e2e2fe"/>
<rect x="258.1" y="1160.8" width="45.0" height="47.7" fill="#eeeefe"/>
<rect x="302.5" y="1160.8" width="48.2" height="47.7" fill="#eeeefe"/>
<rect x="350.1" y="1160.8" width="47.5" height="47.7" fill="#eeeefe"/>
<rect x="258.1" y="1207.9" width="45.0" height="47.7" fill="#eeeefe"/>
<rect x="302.5" y="1207.9" width="48.2" height="47.7" fill="#eeeefe"/>
<rect x="350.1" y="1207.9" width="47.5" height="47.7" fill="#eeeefe"/>
<rect x="258.1" y="1255.0" width="45.0" height="47.7" fill="#bcbcfe"/>
<rect x="302.5" y="1255.0" width="48.2" height="47.7" fill="#eeeefe"/>
<rect x="350.1" y="1255.0" width="47.5" height="47.7" fill="#eeeefe"/>
<rect x="258.1" y="1302.2" width="45.0" height="47.7" fill="#b2b2fe"/>
<rect x="302.5" y="1302.2" width="48.2" height="47.7" fill="#eeeefe"/>
<rect x="350.1" y="1302.2" width="47.5" height="47.7" fill="#eeeefe"/>
<rect x="258.1" y="1349.3" width="45.0" height="47.7" fill="#0000ce"/>
<rect x="302.5" y="1349.3" width="48.2" height="47.7" fill="#2626ff"/>
<rect x="350.1" y="1349.3" width="47.5" height="47.7" fill="#3c3cff"/>
<rect x="258.1" y="1396.4" width="45.0" height="47.7" fill="#0000ce"/>
<rect x="302.5" y="1396.4" width="48.2" height="47.7" fill="#dbdbfe"/>
<rect x="350.1" y="1396.4" width="47.5" height="47.7" fill="#eeeefe"/>
<rect x="258.1" y="1443.6" width="45.0" height="47.7" fill="#0000ce"/>
<rect x="302.5" y="1443.6" width="48.2" height="47.7" fill="#7777fe"/>
<rect x="350.1" y="1443.6" width="47.5" height="47.7" fill="#e7e7fe"/>
<rect x="256.7" y="1018.0" width="142.3" height="474.7" fill="none" stroke="#000" stroke-width="3.4"/>
<text x="327.5" y="952.0" font-size="24" text-anchor="middle">IL-2</text>
<text x="287.0" y="1006.3" font-size="24.2" transform="rotate(-45 287.0 1006.3)">24 h</text>
<text x="335.0" y="1004.3" font-size="24.2" transform="rotate(-45 335.0 1004.3)">48 h</text>
<text x="381.5" y="1005.3" font-size="24.2" transform="rotate(-45 381.5 1005.3)">72 h</text>
<rect x="429.6" y="1017.1" width="32.7" height="15.3" fill="#0404ff"/>
<rect x="429.6" y="1032.0" width="32.7" height="15.3" fill="#0b0bff"/>
<rect x="429.6" y="1046.8" width="32.7" height="15.3" fill="#1313ff"/>
<rect x="429.6" y="1061.7" width="32.7" height="15.3" fill="#1a1aff"/>
<rect x="429.6" y="1076.5" width="32.7" height="15.3" fill="#2121ff"/>
<rect x="429.6" y="1091.4" width="32.7" height="15.3" fill="#2929ff"/>
<rect x="429.6" y="1106.2" width="32.7" height="15.3" fill="#3030ff"/>
<rect x="429.6" y="1121.1" width="32.7" height="15.3" fill="#3838ff"/>
<rect x="429.6" y="1136.0" width="32.7" height="15.3" fill="#3f3fff"/>
<rect x="429.6" y="1150.8" width="32.7" height="15.3" fill="#4747ff"/>
<rect x="429.6" y="1165.7" width="32.7" height="15.3" fill="#4e4eff"/>
<rect x="429.6" y="1180.5" width="32.7" height="15.3" fill="#5656ff"/>
<rect x="429.6" y="1195.4" width="32.7" height="15.3" fill="#5d5dff"/>
<rect x="429.6" y="1210.2" width="32.7" height="15.3" fill="#6464ff"/>
<rect x="429.6" y="1225.1" width="32.7" height="15.3" fill="#6c6cff"/>
<rect x="429.6" y="1239.9" width="32.7" height="15.3" fill="#7373ff"/>
<rect x="429.6" y="1254.8" width="32.7" height="15.3" fill="#7b7bfe"/>
<rect x="429.6" y="1269.7" width="32.7" height="15.3" fill="#8282fe"/>
<rect x="429.6" y="1284.5" width="32.7" height="15.3" fill="#8a8afe"/>
<rect x="429.6" y="1299.4" width="32.7" height="15.3" fill="#9191fe"/>
<rect x="429.6" y="1314.2" width="32.7" height="15.3" fill="#9898fe"/>
<rect x="429.6" y="1329.1" width="32.7" height="15.3" fill="#a0a0fe"/>
<rect x="429.6" y="1343.9" width="32.7" height="15.3" fill="#a7a7fe"/>
<rect x="429.6" y="1358.8" width="32.7" height="15.3" fill="#afaffe"/>
<rect x="429.6" y="1373.6" width="32.7" height="15.3" fill="#b6b6fe"/>
<rect x="429.6" y="1388.5" width="32.7" height="15.3" fill="#bebefe"/>
<rect x="429.6" y="1403.4" width="32.7" height="15.3" fill="#c5c5fe"/>
<rect x="429.6" y="1418.2" width="32.7" height="15.3" fill="#cdcdfe"/>
<rect x="429.6" y="1433.1" width="32.7" height="15.3" fill="#d4d4fe"/>
<rect x="429.6" y="1447.9" width="32.7" height="15.3" fill="#dbdbfe"/>
<rect x="429.6" y="1462.8" width="32.7" height="15.3" fill="#e3e3fe"/>
<rect x="429.6" y="1477.6" width="32.7" height="15.3" fill="#eaeafe"/>
<rect x="430.6" y="1018.3" width="30.7" height="473.4" fill="none" stroke="#000" stroke-width="2"/>
<text x="473.6" y="1025.3" font-size="24">6</text>
<line x1="429.6" y1="1175.8" x2="435.6" y2="1175.8" stroke="#000" stroke-width="2"/>
<line x1="456.3" y1="1175.8" x2="462.3" y2="1175.8" stroke="#000" stroke-width="2"/>
<text x="473.6" y="1184.2" font-size="24">4</text>
<line x1="429.6" y1="1334.0" x2="435.6" y2="1334.0" stroke="#000" stroke-width="2"/>
<line x1="456.3" y1="1334.0" x2="462.3" y2="1334.0" stroke="#000" stroke-width="2"/>
<text x="473.6" y="1342.4" font-size="24">2</text>
<text x="473.6" y="1500.6" font-size="24">0</text>
<text x="445.6" y="1541.8" font-size="23" text-anchor="middle">ng/mL</text>
<rect x="517.3" y="1016.9" width="45.0" height="47.7" fill="#eeeefe"/>
<rect x="561.7" y="1016.9" width="48.2" height="47.7" fill="#eeeefe"/>
<rect x="609.3" y="1016.9" width="47.2" height="47.7" fill="#eeeefe"/>
<rect x="517.3" y="1064.0" width="45.0" height="47.7" fill="#eeeefe"/>
<rect x="561.7" y="1064.0" width="48.2" height="47.7" fill="#eeeefe"/>
<rect x="609.3" y="1064.0" width="47.2" height="47.7" fill="#eeeefe"/>
<rect x="517.3" y="1111.1" width="45.0" height="47.7" fill="#eeeefe"/>
<rect x="561.7" y="1111.1" width="48.2" height="47.7" fill="#eeeefe"/>
<rect x="609.3" y="1111.1" width="47.2" height="47.7" fill="#ececfe"/>
<rect x="517.3" y="1158.2" width="45.0" height="47.7" fill="#eeeefe"/>
<rect x="561.7" y="1158.2" width="48.2" height="47.7" fill="#eeeefe"/>
<rect x="609.3" y="1158.2" width="47.2" height="47.7" fill="#eeeefe"/>
<rect x="517.3" y="1205.3" width="45.0" height="47.7" fill="#eeeefe"/>
<rect x="561.7" y="1205.3" width="48.2" height="47.7" fill="#eeeefe"/>
<rect x="609.3" y="1205.3" width="47.2" height="47.7" fill="#eeeefe"/>
<rect x="517.3" y="1252.4" width="45.0" height="47.7" fill="#ddddfe"/>
<rect x="561.7" y="1252.4" width="48.2" height="47.7" fill="#e0e0fe"/>
<rect x="609.3" y="1252.4" width="47.2" height="47.7" fill="#e4e4fe"/>
<rect x="517.3" y="1299.5" width="45.0" height="47.7" fill="#dcdcfe"/>
<rect x="561.7" y="1299.5" width="48.2" height="47.7" fill="#dfdffe"/>
<rect x="609.3" y="1299.5" width="47.2" height="47.7" fill="#e4e4fe"/>
<rect x="517.3" y="1346.6" width="45.0" height="47.7" fill="#d6d6fe"/>
<rect x="561.7" y="1346.6" width="48.2" height="47.7" fill="#8f8ffe"/>
<rect x="609.3" y="1346.6" width="47.2" height="47.7" fill="#6666ff"/>
<rect x="517.3" y="1393.7" width="45.0" height="47.7" fill="#cfcffe"/>
<rect x="561.7" y="1393.7" width="48.2" height="47.7" fill="#a7a7fe"/>
<rect x="609.3" y="1393.7" width="47.2" height="47.7" fill="#9898fe"/>
<rect x="517.3" y="1440.8" width="45.0" height="47.7" fill="#c6c6fe"/>
<rect x="561.7" y="1440.8" width="48.2" height="47.7" fill="#1111ff"/>
<rect x="609.3" y="1440.8" width="47.2" height="47.7" fill="#0000d5"/>
<rect x="515.9" y="1015.5" width="142.0" height="474.4" fill="none" stroke="#000" stroke-width="3.4"/>
<text x="586.9" y="949.7" font-size="24" text-anchor="middle">IFN-γ</text>
<text x="546.0" y="1003.3" font-size="24.2" transform="rotate(-45 546.0 1003.3)">24 h</text>
<text x="595.0" y="1001.3" font-size="24.2" transform="rotate(-45 595.0 1001.3)">48 h</text>
<text x="640.0" y="1002.3" font-size="24.2" transform="rotate(-45 640.0 1002.3)">72 h</text>
<rect x="688.8" y="1014.3" width="33.5" height="15.3" fill="#0404ff"/>
<rect x="688.8" y="1029.2" width="33.5" height="15.3" fill="#0b0bff"/>
<rect x="688.8" y="1044.1" width="33.5" height="15.3" fill="#1313ff"/>
<rect x="688.8" y="1059.0" width="33.5" height="15.3" fill="#1a1aff"/>
<rect x="688.8" y="1073.9" width="33.5" height="15.3" fill="#2121ff"/>
<rect x="688.8" y="1088.8" width="33.5" height="15.3" fill="#2929ff"/>
<rect x="688.8" y="1103.6" width="33.5" height="15.3" fill="#3030ff"/>
<rect x="688.8" y="1118.5" width="33.5" height="15.3" fill="#3838ff"/>
<rect x="688.8" y="1133.4" width="33.5" height="15.3" fill="#3f3fff"/>
<rect x="688.8" y="1148.3" width="33.5" height="15.3" fill="#4747ff"/>
<rect x="688.8" y="1163.2" width="33.5" height="15.3" fill="#4e4eff"/>
<rect x="688.8" y="1178.1" width="33.5" height="15.3" fill="#5656ff"/>
<rect x="688.8" y="1193.0" width="33.5" height="15.3" fill="#5d5dff"/>
<rect x="688.8" y="1207.9" width="33.5" height="15.3" fill="#6464ff"/>
<rect x="688.8" y="1222.8" width="33.5" height="15.3" fill="#6c6cff"/>
<rect x="688.8" y="1237.7" width="33.5" height="15.3" fill="#7373ff"/>
<rect x="688.8" y="1252.5" width="33.5" height="15.3" fill="#7b7bfe"/>
<rect x="688.8" y="1267.4" width="33.5" height="15.3" fill="#8282fe"/>
<rect x="688.8" y="1282.3" width="33.5" height="15.3" fill="#8a8afe"/>
<rect x="688.8" y="1297.2" width="33.5" height="15.3" fill="#9191fe"/>
<rect x="688.8" y="1312.1" width="33.5" height="15.3" fill="#9898fe"/>
<rect x="688.8" y="1327.0" width="33.5" height="15.3" fill="#a0a0fe"/>
<rect x="688.8" y="1341.9" width="33.5" height="15.3" fill="#a7a7fe"/>
<rect x="688.8" y="1356.8" width="33.5" height="15.3" fill="#afaffe"/>
<rect x="688.8" y="1371.7" width="33.5" height="15.3" fill="#b6b6fe"/>
<rect x="688.8" y="1386.6" width="33.5" height="15.3" fill="#bebefe"/>
<rect x="688.8" y="1401.5" width="33.5" height="15.3" fill="#c5c5fe"/>
<rect x="688.8" y="1416.3" width="33.5" height="15.3" fill="#cdcdfe"/>
<rect x="688.8" y="1431.2" width="33.5" height="15.3" fill="#d4d4fe"/>
<rect x="688.8" y="1446.1" width="33.5" height="15.3" fill="#dbdbfe"/>
<rect x="688.8" y="1461.0" width="33.5" height="15.3" fill="#e3e3fe"/>
<rect x="688.8" y="1475.9" width="33.5" height="15.3" fill="#eaeafe"/>
<rect x="689.8" y="1015.5" width="31.5" height="474.5" fill="none" stroke="#000" stroke-width="2"/>
<line x1="688.8" y1="1038.5" x2="694.8" y2="1038.5" stroke="#000" stroke-width="2"/>
<line x1="716.3" y1="1038.5" x2="722.3" y2="1038.5" stroke="#000" stroke-width="2"/>
<text x="733.5" y="1046.9" font-size="24">200</text>
<line x1="688.8" y1="1151.3" x2="694.8" y2="1151.3" stroke="#000" stroke-width="2"/>
<line x1="716.3" y1="1151.3" x2="722.3" y2="1151.3" stroke="#000" stroke-width="2"/>
<text x="733.5" y="1159.7" font-size="24">150</text>
<line x1="688.8" y1="1264.5" x2="694.8" y2="1264.5" stroke="#000" stroke-width="2"/>
<line x1="716.3" y1="1264.5" x2="722.3" y2="1264.5" stroke="#000" stroke-width="2"/>
<text x="733.5" y="1272.9" font-size="24">100</text>
<line x1="688.8" y1="1377.2" x2="694.8" y2="1377.2" stroke="#000" stroke-width="2"/>
<line x1="716.3" y1="1377.2" x2="722.3" y2="1377.2" stroke="#000" stroke-width="2"/>
<text x="733.5" y="1385.6" font-size="24">50</text>
<text x="733.5" y="1498.6" font-size="24">0</text>
<text x="705.0" y="1539.8" font-size="23" text-anchor="middle">ng/mL</text>
<rect x="787.0" y="1016.9" width="45.0" height="47.7" fill="#e9e9fe"/>
<rect x="831.4" y="1016.9" width="48.2" height="47.7" fill="#ececfe"/>
<rect x="879.0" y="1016.9" width="46.9" height="47.7" fill="#e7e7fe"/>
<rect x="787.0" y="1064.0" width="45.0" height="47.7" fill="#e9e9fe"/>
<rect x="831.4" y="1064.0" width="48.2" height="47.7" fill="#ececfe"/>
<rect x="879.0" y="1064.0" width="46.9" height="47.7" fill="#e7e7fe"/>
<rect x="787.0" y="1111.0" width="45.0" height="47.7" fill="#e2e2fe"/>
<rect x="831.4" y="1111.0" width="48.2" height="47.7" fill="#e3e3fe"/>
<rect x="879.0" y="1111.0" width="46.9" height="47.7" fill="#cfcffe"/>
<rect x="787.0" y="1158.1" width="45.0" height="47.7" fill="#ececfe"/>
<rect x="831.4" y="1158.1" width="48.2" height="47.7" fill="#eeeefe"/>
<rect x="879.0" y="1158.1" width="46.9" height="47.7" fill="#eeeefe"/>
<rect x="787.0" y="1205.1" width="45.0" height="47.7" fill="#ececfe"/>
<rect x="831.4" y="1205.1" width="48.2" height="47.7" fill="#eeeefe"/>
<rect x="879.0" y="1205.1" width="46.9" height="47.7" fill="#eeeefe"/>
<rect x="787.0" y="1252.2" width="45.0" height="47.7" fill="#dbdbfe"/>
<rect x="831.4" y="1252.2" width="48.2" height="47.7" fill="#dbdbfe"/>
<rect x="879.0" y="1252.2" width="46.9" height="47.7" fill="#dbdbfe"/>
<rect x="787.0" y="1299.3" width="45.0" height="47.7" fill="#dadafe"/>
<rect x="831.4" y="1299.3" width="48.2" height="47.7" fill="#dadafe"/>
<rect x="879.0" y="1299.3" width="46.9" height="47.7" fill="#dadafe"/>
<rect x="787.0" y="1346.3" width="45.0" height="47.7" fill="#6d6dff"/>
<rect x="831.4" y="1346.3" width="48.2" height="47.7" fill="#5d5dff"/>
<rect x="879.0" y="1346.3" width="46.9" height="47.7" fill="#a4a4fe"/>
<rect x="787.0" y="1393.4" width="45.0" height="47.7" fill="#b7b7fe"/>
<rect x="831.4" y="1393.4" width="48.2" height="47.7" fill="#b0b0fe"/>
<rect x="879.0" y="1393.4" width="46.9" height="47.7" fill="#ababfe"/>
<rect x="787.0" y="1440.4" width="45.0" height="47.7" fill="#4040ff"/>
<rect x="831.4" y="1440.4" width="48.2" height="47.7" fill="#0000ff"/>
<rect x="879.0" y="1440.4" width="46.9" height="47.7" fill="#0000ff"/>
<rect x="785.6" y="1015.5" width="141.7" height="474.0" fill="none" stroke="#000" stroke-width="3.4"/>
<text x="856.2" y="949.7" font-size="24" text-anchor="middle">TNF-α</text>
<text x="815.5" y="1003.3" font-size="24.2" transform="rotate(-45 815.5 1003.3)">24 h</text>
<text x="864.5" y="1001.3" font-size="24.2" transform="rotate(-45 864.5 1001.3)">48 h</text>
<text x="909.5" y="1002.3" font-size="24.2" transform="rotate(-45 909.5 1002.3)">72 h</text>
<rect x="958.0" y="1014.3" width="33.0" height="15.3" fill="#0404ff"/>
<rect x="958.0" y="1029.2" width="33.0" height="15.3" fill="#0b0bff"/>
<rect x="958.0" y="1044.0" width="33.0" height="15.3" fill="#1313ff"/>
<rect x="958.0" y="1058.9" width="33.0" height="15.3" fill="#1a1aff"/>
<rect x="958.0" y="1073.7" width="33.0" height="15.3" fill="#2121ff"/>
<rect x="958.0" y="1088.6" width="33.0" height="15.3" fill="#2929ff"/>
<rect x="958.0" y="1103.5" width="33.0" height="15.3" fill="#3030ff"/>
<rect x="958.0" y="1118.3" width="33.0" height="15.3" fill="#3838ff"/>
<rect x="958.0" y="1133.2" width="33.0" height="15.3" fill="#3f3fff"/>
<rect x="958.0" y="1148.0" width="33.0" height="15.3" fill="#4747ff"/>
<rect x="958.0" y="1162.9" width="33.0" height="15.3" fill="#4e4eff"/>
<rect x="958.0" y="1177.8" width="33.0" height="15.3" fill="#5656ff"/>
<rect x="958.0" y="1192.6" width="33.0" height="15.3" fill="#5d5dff"/>
<rect x="958.0" y="1207.5" width="33.0" height="15.3" fill="#6464ff"/>
<rect x="958.0" y="1222.3" width="33.0" height="15.3" fill="#6c6cff"/>
<rect x="958.0" y="1237.2" width="33.0" height="15.3" fill="#7373ff"/>
<rect x="958.0" y="1252.0" width="33.0" height="15.3" fill="#7b7bfe"/>
<rect x="958.0" y="1266.9" width="33.0" height="15.3" fill="#8282fe"/>
<rect x="958.0" y="1281.8" width="33.0" height="15.3" fill="#8a8afe"/>
<rect x="958.0" y="1296.6" width="33.0" height="15.3" fill="#9191fe"/>
<rect x="958.0" y="1311.5" width="33.0" height="15.3" fill="#9898fe"/>
<rect x="958.0" y="1326.3" width="33.0" height="15.3" fill="#a0a0fe"/>
<rect x="958.0" y="1341.2" width="33.0" height="15.3" fill="#a7a7fe"/>
<rect x="958.0" y="1356.1" width="33.0" height="15.3" fill="#afaffe"/>
<rect x="958.0" y="1370.9" width="33.0" height="15.3" fill="#b6b6fe"/>
<rect x="958.0" y="1385.8" width="33.0" height="15.3" fill="#bebefe"/>
<rect x="958.0" y="1400.6" width="33.0" height="15.3" fill="#c5c5fe"/>
<rect x="958.0" y="1415.5" width="33.0" height="15.3" fill="#cdcdfe"/>
<rect x="958.0" y="1430.4" width="33.0" height="15.3" fill="#d4d4fe"/>
<rect x="958.0" y="1445.2" width="33.0" height="15.3" fill="#dbdbfe"/>
<rect x="958.0" y="1460.1" width="33.0" height="15.3" fill="#e3e3fe"/>
<rect x="958.0" y="1474.9" width="33.0" height="15.3" fill="#eaeafe"/>
<rect x="959.0" y="1015.5" width="31.0" height="473.5" fill="none" stroke="#000" stroke-width="2"/>
<line x1="958.0" y1="1086.7" x2="964.0" y2="1086.7" stroke="#000" stroke-width="2"/>
<line x1="985.0" y1="1086.7" x2="991.0" y2="1086.7" stroke="#000" stroke-width="2"/>
<text x="1003.0" y="1095.1" font-size="24">1.0</text>
<line x1="958.0" y1="1287.7" x2="964.0" y2="1287.7" stroke="#000" stroke-width="2"/>
<line x1="985.0" y1="1287.7" x2="991.0" y2="1287.7" stroke="#000" stroke-width="2"/>
<text x="1003.0" y="1296.1" font-size="24">0.5</text>
<text x="1003.0" y="1497.6" font-size="24">0</text>
<text x="974.5" y="1539.8" font-size="23" text-anchor="middle">ng/mL</text>
<text x="1101.0" y="943.5" font-size="49" font-weight="bold">h</text>
<rect x="1299.1" y="1194.0" width="27.0" height="16.0" fill="#fff" stroke="#000" stroke-width="2.4"/>
<rect x="1338.8" y="1194.0" width="27.0" height="16.0" fill="#d4d4d4" stroke="#000" stroke-width="2.4"/>
<line x1="1392.0" y1="1014.8" x2="1392.0" y2="1020.8" stroke="#000" stroke-width="2.3"/>
<line x1="1385.5" y1="1014.8" x2="1398.5" y2="1014.8" stroke="#000" stroke-width="2.3"/>
<rect x="1378.5" y="1022.0" width="27.0" height="188.0" fill="#808080" stroke="#000" stroke-width="2.4"/>
<line x1="1431.7" y1="1108.8" x2="1431.7" y2="1124.0" stroke="#000" stroke-width="2.3"/>
<line x1="1425.2" y1="1108.8" x2="1438.2" y2="1108.8" stroke="#000" stroke-width="2.3"/>
<rect x="1418.2" y="1125.2" width="27.0" height="84.8" fill="url(#chk)" stroke="#000" stroke-width="2.4"/>
<line x1="1471.4" y1="1180.2" x2="1471.4" y2="1184.7" stroke="#000" stroke-width="2.3"/>
<line x1="1464.9" y1="1180.2" x2="1477.9" y2="1180.2" stroke="#000" stroke-width="2.3"/>
<rect x="1457.9" y="1185.9" width="27.0" height="24.1" fill="url(#hatchH)" stroke="#000" stroke-width="2.4"/>
<line x1="1511.1" y1="1060.3" x2="1511.1" y2="1068.4" stroke="#000" stroke-width="2.3"/>
<line x1="1504.6" y1="1060.3" x2="1517.6" y2="1060.3" stroke="#000" stroke-width="2.3"/>
<rect x="1497.6" y="1069.6" width="27.0" height="140.4" fill="#000" stroke="#000" stroke-width="2.4"/>
<rect x="1537.3" y="1206.1" width="27.0" height="3.9" fill="url(#half)" stroke="#000" stroke-width="2.4"/>
<rect x="1577.0" y="1199.1" width="27.0" height="10.9" fill="url(#grid)" stroke="#000" stroke-width="2.4"/>
<rect x="1616.7" y="1201.1" width="27.0" height="8.9" fill="url(#xx)" stroke="#000" stroke-width="2.4"/>
<rect x="1282.0" y="957.1" width="379.4" height="252.9" fill="none" stroke="#000" stroke-width="2.5"/>
<line x1="1271.5" y1="1210.0" x2="1662.6" y2="1210.0" stroke="#000" stroke-width="2.5"/>
<circle cx="1301.6" cy="1193.8" r="3.7" fill="#fff" stroke="#000" stroke-width="2.2"/>
<circle cx="1312.6" cy="1190.3" r="3.7" fill="#fff" stroke="#000" stroke-width="2.2"/>
<circle cx="1324.1" cy="1190.8" r="3.7" fill="#fff" stroke="#000" stroke-width="2.2"/>
<circle cx="1341.3" cy="1193.8" r="3.7" fill="#fff" stroke="#000" stroke-width="2.2"/>
<circle cx="1352.3" cy="1189.8" r="3.7" fill="#fff" stroke="#000" stroke-width="2.2"/>
<circle cx="1363.8" cy="1192.8" r="3.7" fill="#fff" stroke="#000" stroke-width="2.2"/>
<circle cx="1384.0" cy="1025.9" r="3.7" fill="#fff" stroke="#000" stroke-width="2.2"/>
<circle cx="1392.0" cy="1013.7" r="3.7" fill="#fff" stroke="#000" stroke-width="2.2"/>
<circle cx="1400.0" cy="1021.3" r="3.7" fill="#fff" stroke="#000" stroke-width="2.2"/>
<circle cx="1431.7" cy="1110.4" r="3.7" fill="#fff" stroke="#000" stroke-width="2.2"/>
<circle cx="1431.7" cy="1121.0" r="3.7" fill="#fff" stroke="#000" stroke-width="2.2"/>
<circle cx="1431.7" cy="1138.2" r="3.7" fill="#fff" stroke="#000" stroke-width="2.2"/>
<circle cx="1460.4" cy="1184.7" r="3.7" fill="#fff" stroke="#000" stroke-width="2.2"/>
<circle cx="1471.4" cy="1179.1" r="3.7" fill="#fff" stroke="#000" stroke-width="2.2"/>
<circle cx="1483.4" cy="1183.7" r="3.7" fill="#fff" stroke="#000" stroke-width="2.2"/>
<circle cx="1503.1" cy="1071.4" r="3.7" fill="#fff" stroke="#000" stroke-width="2.2"/>
<circle cx="1511.1" cy="1059.8" r="3.7" fill="#fff" stroke="#000" stroke-width="2.2"/>
<circle cx="1519.6" cy="1071.4" r="3.7" fill="#fff" stroke="#000" stroke-width="2.2"/>
<circle cx="1539.8" cy="1203.9" r="3.7" fill="#fff" stroke="#000" stroke-width="2.2"/>
<circle cx="1550.8" cy="1203.4" r="3.7" fill="#fff" stroke="#000" stroke-width="2.2"/>
<circle cx="1562.3" cy="1202.9" r="3.7" fill="#fff" stroke="#000" stroke-width="2.2"/>
<circle cx="1579.5" cy="1194.8" r="3.7" fill="#fff" stroke="#000" stroke-width="2.2"/>
<circle cx="1590.5" cy="1192.8" r="3.7" fill="#fff" stroke="#000" stroke-width="2.2"/>
<circle cx="1602.0" cy="1194.8" r="3.7" fill="#fff" stroke="#000" stroke-width="2.2"/>
<circle cx="1583.5" cy="1201.9" r="3.7" fill="#fff" stroke="#000" stroke-width="2.2"/>
<circle cx="1597.5" cy="1201.9" r="3.7" fill="#fff" stroke="#000" stroke-width="2.2"/>
<circle cx="1619.2" cy="1197.9" r="3.7" fill="#fff" stroke="#000" stroke-width="2.2"/>
<circle cx="1630.2" cy="1194.8" r="3.7" fill="#fff" stroke="#000" stroke-width="2.2"/>
<circle cx="1641.7" cy="1197.4" r="3.7" fill="#fff" stroke="#000" stroke-width="2.2"/>
<circle cx="1623.2" cy="1203.9" r="3.7" fill="#fff" stroke="#000" stroke-width="2.2"/>
<circle cx="1637.2" cy="1203.9" r="3.7" fill="#fff" stroke="#000" stroke-width="2.2"/>
<line x1="1271.5" y1="957.1" x2="1282.0" y2="957.1" stroke="#000" stroke-width="2.5"/>
<text x="1268.0" y="965.7" font-size="24.8" text-anchor="end">250</text>
<line x1="1271.5" y1="1007.7" x2="1282.0" y2="1007.7" stroke="#000" stroke-width="2.5"/>
<text x="1268.0" y="1016.3" font-size="24.8" text-anchor="end">200</text>
<line x1="1271.5" y1="1058.3" x2="1282.0" y2="1058.3" stroke="#000" stroke-width="2.5"/>
<text x="1268.0" y="1066.9" font-size="24.8" text-anchor="end">150</text>
<line x1="1271.5" y1="1108.8" x2="1282.0" y2="1108.8" stroke="#000" stroke-width="2.5"/>
<text x="1268.0" y="1117.4" font-size="24.8" text-anchor="end">100</text>
<line x1="1271.5" y1="1159.4" x2="1282.0" y2="1159.4" stroke="#000" stroke-width="2.5"/>
<text x="1268.0" y="1168.0" font-size="24.8" text-anchor="end">50</text>
<line x1="1271.5" y1="1210.0" x2="1282.0" y2="1210.0" stroke="#000" stroke-width="2.5"/>
<text x="1268.0" y="1218.6" font-size="24.8" text-anchor="end">0</text>
<text x="1432.0" y="984.0" font-size="19.1" text-anchor="middle" font-style="italic">P &lt; 0.0001</text>
<line x1="1350.0" y1="996.3" x2="1513.7" y2="996.3" stroke="#000" stroke-width="2.2"/>
<text x="1471.7" y="1028.0" font-size="19.1" text-anchor="middle" font-style="italic">P &lt; 0.0001</text>
<line x1="1431.6" y1="1041.0" x2="1513.0" y2="1041.0" stroke="#000" stroke-width="2.2"/>
<text x="1213.5" y="1081.8" font-size="24" text-anchor="middle" transform="rotate(-90 1213.5 1081.8)">TNF-α (pg/mL)</text>
<rect x="1299.6" y="1523.0" width="27.0" height="8.3" fill="#fff" stroke="#000" stroke-width="2.4"/>
<rect x="1339.4" y="1522.2" width="27.0" height="9.1" fill="#d4d4d4" stroke="#000" stroke-width="2.4"/>
<line x1="1392.7" y1="1331.0" x2="1392.7" y2="1362.7" stroke="#000" stroke-width="2.3"/>
<line x1="1386.2" y1="1331.0" x2="1399.2" y2="1331.0" stroke="#000" stroke-width="2.3"/>
<rect x="1379.2" y="1363.9" width="27.0" height="167.4" fill="#808080" stroke="#000" stroke-width="2.4"/>
<rect x="1419.0" y="1498.5" width="27.0" height="32.8" fill="url(#chk)" stroke="#000" stroke-width="2.4"/>
<rect x="1458.8" y="1511.1" width="27.0" height="20.2" fill="url(#hatchH)" stroke="#000" stroke-width="2.4"/>
<rect x="1498.6" y="1466.8" width="27.0" height="64.5" fill="#000" stroke="#000" stroke-width="2.4"/>
<rect x="1578.2" y="1527.0" width="27.0" height="4.3" fill="url(#grid)" stroke="#000" stroke-width="2.4"/>
<rect x="1618.0" y="1528.5" width="27.0" height="2.8" fill="url(#xx)" stroke="#000" stroke-width="2.4"/>
<rect x="1282.0" y="1278.4" width="380.4" height="252.9" fill="none" stroke="#000" stroke-width="2.5"/>
<line x1="1271.5" y1="1531.3" x2="1663.6" y2="1531.3" stroke="#000" stroke-width="2.5"/>
<circle cx="1302.1" cy="1523.8" r="3.7" fill="#fff" stroke="#000" stroke-width="2.2"/>
<circle cx="1313.1" cy="1520.2" r="3.7" fill="#fff" stroke="#000" stroke-width="2.2"/>
<circle cx="1324.6" cy="1521.8" r="3.7" fill="#fff" stroke="#000" stroke-width="2.2"/>
<circle cx="1341.9" cy="1522.2" r="3.7" fill="#fff" stroke="#000" stroke-width="2.2"/>
<circle cx="1352.9" cy="1517.8" r="3.7" fill="#fff" stroke="#000" stroke-width="2.2"/>
<circle cx="1364.4" cy="1520.6" r="3.7" fill="#fff" stroke="#000" stroke-width="2.2"/>
<circle cx="1392.7" cy="1326.3" r="3.7" fill="#fff" stroke="#000" stroke-width="2.2"/>
<circle cx="1384.7" cy="1381.7" r="3.7" fill="#fff" stroke="#000" stroke-width="2.2"/>
<circle cx="1400.7" cy="1376.1" r="3.7" fill="#fff" stroke="#000" stroke-width="2.2"/>
<circle cx="1421.5" cy="1497.7" r="3.7" fill="#fff" stroke="#000" stroke-width="2.2"/>
<circle cx="1432.5" cy="1491.7" r="3.7" fill="#fff" stroke="#000" stroke-width="2.2"/>
<circle cx="1444.5" cy="1495.3" r="3.7" fill="#fff" stroke="#000" stroke-width="2.2"/>
<circle cx="1461.3" cy="1511.5" r="3.7" fill="#fff" stroke="#000" stroke-width="2.2"/>
<circle cx="1472.3" cy="1506.0" r="3.7" fill="#fff" stroke="#000" stroke-width="2.2"/>
<circle cx="1484.3" cy="1508.3" r="3.7" fill="#fff" stroke="#000" stroke-width="2.2"/>
<circle cx="1504.1" cy="1460.0" r="3.7" fill="#fff" stroke="#000" stroke-width="2.2"/>
<circle cx="1505.1" cy="1468.0" r="3.7" fill="#fff" stroke="#000" stroke-width="2.2"/>
<circle cx="1520.1" cy="1464.8" r="3.7" fill="#fff" stroke="#000" stroke-width="2.2"/>
<circle cx="1540.9" cy="1531.3" r="3.7" fill="#fff" stroke="#000" stroke-width="2.2"/>
<circle cx="1551.9" cy="1531.3" r="3.7" fill="#fff" stroke="#000" stroke-width="2.2"/>
<circle cx="1563.4" cy="1531.3" r="3.7" fill="#fff" stroke="#000" stroke-width="2.2"/>
<circle cx="1580.7" cy="1525.8" r="3.7" fill="#fff" stroke="#000" stroke-width="2.2"/>
<circle cx="1591.7" cy="1525.8" r="3.7" fill="#fff" stroke="#000" stroke-width="2.2"/>
<circle cx="1603.2" cy="1524.6" r="3.7" fill="#fff" stroke="#000" stroke-width="2.2"/>
<circle cx="1620.5" cy="1528.1" r="3.7" fill="#fff" stroke="#000" stroke-width="2.2"/>
<circle cx="1631.5" cy="1525.4" r="3.7" fill="#fff" stroke="#000" stroke-width="2.2"/>
<circle cx="1643.0" cy="1526.2" r="3.7" fill="#fff" stroke="#000" stroke-width="2.2"/>
<line x1="1271.5" y1="1293.8" x2="1282.0" y2="1293.8" stroke="#000" stroke-width="2.5"/>
<text x="1268.0" y="1302.4" font-size="24.8" text-anchor="end">300</text>
<line x1="1271.5" y1="1373.0" x2="1282.0" y2="1373.0" stroke="#000" stroke-width="2.5"/>
<text x="1268.0" y="1381.6" font-size="24.8" text-anchor="end">200</text>
<line x1="1271.5" y1="1452.1" x2="1282.0" y2="1452.1" stroke="#000" stroke-width="2.5"/>
<text x="1268.0" y="1460.7" font-size="24.8" text-anchor="end">100</text>
<line x1="1271.5" y1="1531.3" x2="1282.0" y2="1531.3" stroke="#000" stroke-width="2.5"/>
<text x="1268.0" y="1539.9" font-size="24.8" text-anchor="end">0</text>
<text x="1432.0" y="1301.7" font-size="19.1" text-anchor="middle" font-style="italic">P &lt; 0.0001</text>
<line x1="1347.4" y1="1314.2" x2="1517.8" y2="1314.2" stroke="#000" stroke-width="2.2"/>
<text x="1473.0" y="1424.7" font-size="19.1" text-anchor="middle" font-style="italic">P = 0.0379</text>
<line x1="1431.6" y1="1437.5" x2="1514.4" y2="1437.5" stroke="#000" stroke-width="2.2"/>
<text x="1213.5" y="1403.9" font-size="24" text-anchor="middle" transform="rotate(-90 1213.5 1403.9)">IL-2 (pg/mL)</text>
<rect x="1746.4" y="1071.8" width="11.6" height="11.6" fill="#fff" stroke="#000" stroke-width="2.4"/>
<text x="1781.9" y="1084.8" font-size="19.8" letter-spacing="0">PBS</text>
<rect x="1746.4" y="1107.6" width="11.6" height="11.6" fill="#d4d4d4" stroke="#000" stroke-width="2.4"/>
<text x="1781.9" y="1120.0" font-size="19.8" letter-spacing="0.2">CaCl<tspan font-size="13.9" dy="4.7">2</tspan></text>
<rect x="1746.4" y="1144.2" width="11.6" height="11.6" fill="#808080" stroke="#000" stroke-width="2.4"/>
<text x="1781.9" y="1157.9" font-size="19.8" letter-spacing="0.57">ION/PMA</text>
<rect x="1745.2" y="1177.5" width="14.0" height="14.0" fill="#000"/>
<rect x="1747.6" y="1179.9" width="4.6" height="4.6" fill="#777"/>
<rect x="1752.2" y="1184.5" width="4.6" height="4.6" fill="#777"/>
<text x="1781.9" y="1192.0" font-size="19.8" letter-spacing="0.67">PMA</text>
<rect x="1746.4" y="1213.2" width="11.6" height="11.6" fill="url(#hatchL)" stroke="#000" stroke-width="2.4"/>
<text x="1781.9" y="1226.7" font-size="19.8" letter-spacing="0.23">DCNP-Ab</text>
<rect x="1746.4" y="1247.8" width="11.6" height="11.6" fill="#000" stroke="#000" stroke-width="2.4"/>
<text x="1781.9" y="1260.5" font-size="19.8" letter-spacing="0.3">PDCNP-Ab</text>
<rect x="1745.2" y="1280.9" width="14.0" height="14.0" fill="#000"/>
<rect x="1752.2" y="1283.3" width="4.6" height="9.2" fill="#fff"/>
<text x="1781.9" y="1295.7" font-size="19.8" letter-spacing="0.47">Degraded PDCNP-Ab</text>
<rect x="1745.2" y="1315.4" width="14.0" height="14.0" fill="#000"/>
<rect x="1747.6" y="1317.8" width="5.0" height="5.0" fill="#fff"/>
<text x="1781.9" y="1330.0" font-size="19.8" letter-spacing="0.75">αPD-1 (1 e.q.)</text>
<rect x="1745.2" y="1349.9" width="14.0" height="14.0" fill="#000"/>
<path d="M1747.6 1352.7L1751.4 1356.9L1747.6 1361.1Z M1756.8 1352.7L1753.0 1356.9L1756.8 1361.1Z" fill="#fff"/>
<text x="1781.9" y="1364.5" font-size="19.8" letter-spacing="0.75">αPD-1 (10 e.q.)</text>
<text x="50.5" y="1680.7" font-size="49" font-weight="bold">g</text>
<rect x="584.8" y="1673.1" width="14.8" height="14.8" fill="#fff" stroke="#000" stroke-width="2.2"/>
<text x="621.8" y="1688.2" font-size="24">PBS</text>
<rect x="720.1" y="1674.7" width="14.8" height="14.8" fill="#d4d4d4" stroke="#000" stroke-width="2.2"/>
<text x="757.6" y="1688.2" font-size="24">CaCl<tspan font-size="16.8" dy="5.6">2</tspan></text>
<rect x="871.8" y="1673.1" width="14.8" height="14.8" fill="#808080" stroke="#000" stroke-width="2.2"/>
<text x="908.8" y="1688.2" font-size="24">ION/PMA</text>
<rect x="1061.3" y="1673.1" width="14.8" height="14.8" fill="url(#hatchL)" stroke="#000" stroke-width="2.2"/>
<text x="1099.0" y="1688.2" font-size="24">DCNP-Ab</text>
<rect x="1256.5" y="1673.1" width="14.8" height="14.8" fill="#000" stroke="#000" stroke-width="2.2"/>
<text x="1293.3" y="1688.2" font-size="24">PDCNP-Ab</text>
<rect x="109.7" y="1952.4" width="28.2" height="97.0" fill="#fff" stroke="#000" stroke-width="2.4"/>
<rect x="158.2" y="1967.8" width="28.2" height="81.6" fill="#d4d4d4" stroke="#000" stroke-width="2.4"/>
<rect x="206.8" y="1911.7" width="28.2" height="137.7" fill="#808080" stroke="#000" stroke-width="2.4"/>
<rect x="255.3" y="1920.2" width="28.2" height="129.2" fill="url(#hatch)" stroke="#000" stroke-width="2.4"/>
<rect x="303.9" y="1911.7" width="28.2" height="137.7" fill="#000" stroke="#000" stroke-width="2.4"/>
<rect x="94.5" y="1796.6" width="253.2" height="252.8" fill="none" stroke="#000" stroke-width="2.5"/>
<line x1="84.0" y1="2049.4" x2="348.9" y2="2049.4" stroke="#000" stroke-width="2.5"/>
<circle cx="112.8" cy="1952.6" r="3.7" fill="#fff" stroke="#000" stroke-width="2.2"/>
<circle cx="123.8" cy="1947.0" r="3.7" fill="#fff" stroke="#000" stroke-width="2.2"/>
<circle cx="135.3" cy="1949.1" r="3.7" fill="#fff" stroke="#000" stroke-width="2.2"/>
<circle cx="161.4" cy="1968.7" r="3.7" fill="#fff" stroke="#000" stroke-width="2.2"/>
<circle cx="172.4" cy="1961.7" r="3.7" fill="#fff" stroke="#000" stroke-width="2.2"/>
<circle cx="183.9" cy="1965.2" r="3.7" fill="#fff" stroke="#000" stroke-width="2.2"/>
<circle cx="209.9" cy="1910.5" r="3.7" fill="#fff" stroke="#000" stroke-width="2.2"/>
<circle cx="220.9" cy="1909.8" r="3.7" fill="#fff" stroke="#000" stroke-width="2.2"/>
<circle cx="232.4" cy="1910.5" r="3.7" fill="#fff" stroke="#000" stroke-width="2.2"/>
<circle cx="258.4" cy="1921.8" r="3.7" fill="#fff" stroke="#000" stroke-width="2.2"/>
<circle cx="269.4" cy="1919.0" r="3.7" fill="#fff" stroke="#000" stroke-width="2.2"/>
<circle cx="280.9" cy="1919.7" r="3.7" fill="#fff" stroke="#000" stroke-width="2.2"/>
<circle cx="307.0" cy="1910.5" r="3.7" fill="#fff" stroke="#000" stroke-width="2.2"/>
<circle cx="318.0" cy="1909.8" r="3.7" fill="#fff" stroke="#000" stroke-width="2.2"/>
<circle cx="329.5" cy="1910.5" r="3.7" fill="#fff" stroke="#000" stroke-width="2.2"/>
<line x1="84.0" y1="1839.0" x2="94.5" y2="1839.0" stroke="#000" stroke-width="2.5"/>
<text x="80.5" y="1847.1" font-size="24" text-anchor="end">150</text>
<line x1="84.0" y1="1909.1" x2="94.5" y2="1909.1" stroke="#000" stroke-width="2.5"/>
<text x="80.5" y="1917.3" font-size="24" text-anchor="end">100</text>
<line x1="84.0" y1="1979.3" x2="94.5" y2="1979.3" stroke="#000" stroke-width="2.5"/>
<text x="80.5" y="1987.4" font-size="24" text-anchor="end">50</text>
<line x1="84.0" y1="2049.4" x2="94.5" y2="2049.4" stroke="#000" stroke-width="2.5"/>
<text x="80.5" y="2057.5" font-size="24" text-anchor="end">0</text>
<text x="243.6" y="1820.8" font-size="19.1" text-anchor="middle" font-style="italic">P &lt; 0.0001</text>
<line x1="166.3" y1="1832.7" x2="320.0" y2="1832.7" stroke="#000" stroke-width="2.5"/>
<text x="219.0" y="1856.5" font-size="19.1" text-anchor="middle" font-style="italic">P &lt; 0.0001</text>
<line x1="168.5" y1="1868.4" x2="269.7" y2="1868.4" stroke="#000" stroke-width="2.5"/>
<text x="294.3" y="1888.9" font-size="19.1" text-anchor="middle" font-style="italic">P = 0.0021</text>
<line x1="270.5" y1="1900.8" x2="319.4" y2="1900.8" stroke="#000" stroke-width="2.5"/>
<text x="220.8" y="1774.5" font-size="24.4" text-anchor="middle">CD69<tspan font-size="17.3" dy="-9.8">+</tspan></text>
<text x="26.8" y="1920.8" font-size="24" text-anchor="middle" transform="rotate(-90 26.8 1920.8)">% in CD8<tspan font-size="17.5" dy="-9.8">+</tspan><tspan dy="9.8"> cells</tspan></text>
<line x1="428.5" y1="2028.0" x2="428.5" y2="2031.3" stroke="#000" stroke-width="2.3"/>
<line x1="422.0" y1="2028.0" x2="435.0" y2="2028.0" stroke="#000" stroke-width="2.3"/>
<rect x="414.4" y="2032.5" width="28.2" height="17.3" fill="#fff" stroke="#000" stroke-width="2.4"/>
<line x1="477.0" y1="2019.6" x2="477.0" y2="2028.8" stroke="#000" stroke-width="2.3"/>
<line x1="470.5" y1="2019.6" x2="483.5" y2="2019.6" stroke="#000" stroke-width="2.3"/>
<rect x="462.9" y="2030.0" width="28.2" height="19.8" fill="#d4d4d4" stroke="#000" stroke-width="2.4"/>
<line x1="525.5" y1="1965.0" x2="525.5" y2="1973.4" stroke="#000" stroke-width="2.3"/>
<line x1="519.0" y1="1965.0" x2="532.0" y2="1965.0" stroke="#000" stroke-width="2.3"/>
<rect x="511.4" y="1974.6" width="28.2" height="75.2" fill="#808080" stroke="#000" stroke-width="2.4"/>
<line x1="574.0" y1="1949.1" x2="574.0" y2="1960.0" stroke="#000" stroke-width="2.3"/>
<line x1="567.5" y1="1949.1" x2="580.5" y2="1949.1" stroke="#000" stroke-width="2.3"/>
<rect x="559.9" y="1961.2" width="28.2" height="88.6" fill="url(#hatch)" stroke="#000" stroke-width="2.4"/>
<line x1="622.5" y1="1891.2" x2="622.5" y2="1900.4" stroke="#000" stroke-width="2.3"/>
<line x1="616.0" y1="1891.2" x2="629.0" y2="1891.2" stroke="#000" stroke-width="2.3"/>
<rect x="608.4" y="1901.6" width="28.2" height="148.2" fill="#000" stroke="#000" stroke-width="2.4"/>
<rect x="399.2" y="1798.0" width="252.8" height="251.8" fill="none" stroke="#000" stroke-width="2.5"/>
<line x1="388.7" y1="2049.8" x2="653.2" y2="2049.8" stroke="#000" stroke-width="2.5"/>
<circle cx="417.5" cy="2029.7" r="3.7" fill="#fff" stroke="#000" stroke-width="2.2"/>
<circle cx="417.5" cy="2037.2" r="3.7" fill="#fff" stroke="#000" stroke-width="2.2"/>
<circle cx="428.5" cy="2032.2" r="3.7" fill="#fff" stroke="#000" stroke-width="2.2"/>
<circle cx="440.0" cy="2032.2" r="3.7" fill="#fff" stroke="#000" stroke-width="2.2"/>
<circle cx="477.0" cy="2018.7" r="3.7" fill="#fff" stroke="#000" stroke-width="2.2"/>
<circle cx="477.0" cy="2028.8" r="3.7" fill="#fff" stroke="#000" stroke-width="2.2"/>
<circle cx="477.0" cy="2036.4" r="3.7" fill="#fff" stroke="#000" stroke-width="2.2"/>
<circle cx="525.5" cy="1965.0" r="3.7" fill="#fff" stroke="#000" stroke-width="2.2"/>
<circle cx="525.5" cy="1973.4" r="3.7" fill="#fff" stroke="#000" stroke-width="2.2"/>
<circle cx="525.5" cy="1981.0" r="3.7" fill="#fff" stroke="#000" stroke-width="2.2"/>
<circle cx="563.0" cy="1951.6" r="3.7" fill="#fff" stroke="#000" stroke-width="2.2"/>
<circle cx="585.5" cy="1954.1" r="3.7" fill="#fff" stroke="#000" stroke-width="2.2"/>
<circle cx="574.0" cy="1972.6" r="3.7" fill="#fff" stroke="#000" stroke-width="2.2"/>
<circle cx="622.5" cy="1890.3" r="3.7" fill="#fff" stroke="#000" stroke-width="2.2"/>
<circle cx="622.5" cy="1900.4" r="3.7" fill="#fff" stroke="#000" stroke-width="2.2"/>
<circle cx="622.5" cy="1908.8" r="3.7" fill="#fff" stroke="#000" stroke-width="2.2"/>
<line x1="388.7" y1="1798.0" x2="399.2" y2="1798.0" stroke="#000" stroke-width="2.5"/>
<text x="386.0" y="1806.1" font-size="24" text-anchor="end">30</text>
<line x1="388.7" y1="1881.9" x2="399.2" y2="1881.9" stroke="#000" stroke-width="2.5"/>
<text x="386.0" y="1890.1" font-size="24" text-anchor="end">20</text>
<line x1="388.7" y1="1965.9" x2="399.2" y2="1965.9" stroke="#000" stroke-width="2.5"/>
<text x="386.0" y="1974.0" font-size="24" text-anchor="end">10</text>
<line x1="388.7" y1="2049.8" x2="399.2" y2="2049.8" stroke="#000" stroke-width="2.5"/>
<text x="386.0" y="2057.9" font-size="24" text-anchor="end">0</text>
<text x="546.7" y="1827.8" font-size="19.1" text-anchor="middle" font-style="italic">P &lt; 0.0001</text>
<line x1="470.3" y1="1840.0" x2="621.9" y2="1840.0" stroke="#000" stroke-width="2.5"/>
<text x="596.5" y="1866.8" font-size="19.1" text-anchor="middle" font-style="italic">P &lt; 0.0001</text>
<line x1="570.4" y1="1879.4" x2="621.9" y2="1879.4" stroke="#000" stroke-width="2.5"/>
<text x="525.2" y="1929.4" font-size="19.1" text-anchor="middle" font-style="italic">P &lt; 0.0001</text>
<line x1="474.7" y1="1941.2" x2="575.9" y2="1941.2" stroke="#000" stroke-width="2.5"/>
<text x="525.3" y="1776.4" font-size="24.4" text-anchor="middle">IFN-γ<tspan font-size="17.3" dy="-9.8">+</tspan></text>
<line x1="745.6" y1="1996.3" x2="745.6" y2="2017.7" stroke="#000" stroke-width="2.3"/>
<line x1="739.1" y1="1996.3" x2="752.1" y2="1996.3" stroke="#000" stroke-width="2.3"/>
<rect x="731.5" y="2018.9" width="28.2" height="31.6" fill="#fff" stroke="#000" stroke-width="2.4"/>
<line x1="794.0" y1="1969.9" x2="794.0" y2="1995.1" stroke="#000" stroke-width="2.3"/>
<line x1="787.5" y1="1969.9" x2="800.5" y2="1969.9" stroke="#000" stroke-width="2.3"/>
<rect x="779.9" y="1996.3" width="28.2" height="54.2" fill="#d4d4d4" stroke="#000" stroke-width="2.4"/>
<line x1="842.4" y1="1932.1" x2="842.4" y2="1952.2" stroke="#000" stroke-width="2.3"/>
<line x1="835.9" y1="1932.1" x2="848.9" y2="1932.1" stroke="#000" stroke-width="2.3"/>
<rect x="828.3" y="1953.4" width="28.2" height="97.1" fill="#808080" stroke="#000" stroke-width="2.4"/>
<rect x="876.7" y="2049.2" width="28.2" height="1.3" fill="url(#hatch)" stroke="#000" stroke-width="2.4"/>
<rect x="925.1" y="1900.5" width="28.2" height="150.0" fill="#000" stroke="#000" stroke-width="2.4"/>
<rect x="716.4" y="1798.5" width="252.8" height="252.0" fill="none" stroke="#000" stroke-width="2.5"/>
<line x1="705.9" y1="2050.5" x2="970.4" y2="2050.5" stroke="#000" stroke-width="2.5"/>
<circle cx="745.6" cy="1995.6" r="3.7" fill="#fff" stroke="#000" stroke-width="2.2"/>
<circle cx="734.6" cy="2029.1" r="3.7" fill="#fff" stroke="#000" stroke-width="2.2"/>
<circle cx="757.1" cy="2025.3" r="3.7" fill="#fff" stroke="#000" stroke-width="2.2"/>
<circle cx="794.0" cy="1967.3" r="3.7" fill="#fff" stroke="#000" stroke-width="2.2"/>
<circle cx="794.0" cy="1997.6" r="3.7" fill="#fff" stroke="#000" stroke-width="2.2"/>
<circle cx="794.0" cy="2017.7" r="3.7" fill="#fff" stroke="#000" stroke-width="2.2"/>
<circle cx="831.4" cy="1938.4" r="3.7" fill="#fff" stroke="#000" stroke-width="2.2"/>
<circle cx="853.9" cy="1943.4" r="3.7" fill="#fff" stroke="#000" stroke-width="2.2"/>
<circle cx="842.4" cy="1973.6" r="3.7" fill="#fff" stroke="#000" stroke-width="2.2"/>
<circle cx="879.8" cy="2048.0" r="3.7" fill="#fff" stroke="#000" stroke-width="2.2"/>
<circle cx="890.8" cy="2045.0" r="3.7" fill="#fff" stroke="#000" stroke-width="2.2"/>
<circle cx="902.3" cy="2048.0" r="3.7" fill="#fff" stroke="#000" stroke-width="2.2"/>
<circle cx="928.2" cy="1901.8" r="3.7" fill="#fff" stroke="#000" stroke-width="2.2"/>
<circle cx="939.2" cy="1895.5" r="3.7" fill="#fff" stroke="#000" stroke-width="2.2"/>
<circle cx="950.7" cy="1896.8" r="3.7" fill="#fff" stroke="#000" stroke-width="2.2"/>
<line x1="705.9" y1="1798.5" x2="716.4" y2="1798.5" stroke="#000" stroke-width="2.5"/>
<text x="703.0" y="1806.6" font-size="24" text-anchor="end">100</text>
<line x1="705.9" y1="1848.9" x2="716.4" y2="1848.9" stroke="#000" stroke-width="2.5"/>
<text x="703.0" y="1857.0" font-size="24" text-anchor="end">80</text>
<line x1="705.9" y1="1899.3" x2="716.4" y2="1899.3" stroke="#000" stroke-width="2.5"/>
<text x="703.0" y="1907.4" font-size="24" text-anchor="end">60</text>
<line x1="705.9" y1="1949.7" x2="716.4" y2="1949.7" stroke="#000" stroke-width="2.5"/>
<text x="703.0" y="1957.8" font-size="24" text-anchor="end">40</text>
<line x1="705.9" y1="2000.1" x2="716.4" y2="2000.1" stroke="#000" stroke-width="2.5"/>
<text x="703.0" y="2008.2" font-size="24" text-anchor="end">20</text>
<line x1="705.9" y1="2050.5" x2="716.4" y2="2050.5" stroke="#000" stroke-width="2.5"/>
<text x="703.0" y="2058.6" font-size="24" text-anchor="end">0</text>
<text x="863.6" y="1823.4" font-size="19.1" text-anchor="middle" font-style="italic">P = 0.0002</text>
<line x1="790.7" y1="1836.0" x2="938.3" y2="1836.0" stroke="#000" stroke-width="2.5"/>
<text x="910.5" y="1865.7" font-size="19.1" text-anchor="middle" font-style="italic">P &lt; 0.0001</text>
<line x1="886.4" y1="1877.6" x2="935.3" y2="1877.6" stroke="#000" stroke-width="2.5"/>
<text x="842.4" y="1778.0" font-size="24.4" text-anchor="middle">TNF-α<tspan font-size="17.3" dy="-9.8">+</tspan></text>
<line x1="177.7" y1="2098.4" x2="885.7" y2="2098.4" stroke="#000" stroke-width="3"/>
<text x="511.3" y="2148.6" font-size="24.6" text-anchor="middle">48 h</text>
<rect x="1130.3" y="2014.8" width="28.2" height="33.9" fill="#fff" stroke="#000" stroke-width="2.4"/>
<rect x="1178.8" y="2020.4" width="28.2" height="28.3" fill="#d4d4d4" stroke="#000" stroke-width="2.4"/>
<rect x="1227.3" y="1913.8" width="28.2" height="134.9" fill="#808080" stroke="#000" stroke-width="2.4"/>
<rect x="1275.8" y="1929.2" width="28.2" height="119.5" fill="url(#hatch)" stroke="#000" stroke-width="2.4"/>
<rect x="1324.3" y="1909.6" width="28.2" height="139.1" fill="#000" stroke="#000" stroke-width="2.4"/>
<rect x="1115.2" y="1795.5" width="253.5" height="253.2" fill="none" stroke="#000" stroke-width="2.5"/>
<line x1="1104.7" y1="2048.7" x2="1369.9" y2="2048.7" stroke="#000" stroke-width="2.5"/>
<circle cx="1133.4" cy="2013.6" r="3.7" fill="#fff" stroke="#000" stroke-width="2.2"/>
<circle cx="1144.4" cy="2012.9" r="3.7" fill="#fff" stroke="#000" stroke-width="2.2"/>
<circle cx="1155.9" cy="2013.6" r="3.7" fill="#fff" stroke="#000" stroke-width="2.2"/>
<circle cx="1181.9" cy="2019.9" r="3.7" fill="#fff" stroke="#000" stroke-width="2.2"/>
<circle cx="1192.9" cy="2016.4" r="3.7" fill="#fff" stroke="#000" stroke-width="2.2"/>
<circle cx="1204.4" cy="2019.2" r="3.7" fill="#fff" stroke="#000" stroke-width="2.2"/>
<circle cx="1230.4" cy="1912.6" r="3.7" fill="#fff" stroke="#000" stroke-width="2.2"/>
<circle cx="1241.4" cy="1911.9" r="3.7" fill="#fff" stroke="#000" stroke-width="2.2"/>
<circle cx="1252.9" cy="1912.6" r="3.7" fill="#fff" stroke="#000" stroke-width="2.2"/>
<circle cx="1278.9" cy="1928.0" r="3.7" fill="#fff" stroke="#000" stroke-width="2.2"/>
<circle cx="1289.9" cy="1925.9" r="3.7" fill="#fff" stroke="#000" stroke-width="2.2"/>
<circle cx="1301.4" cy="1927.3" r="3.7" fill="#fff" stroke="#000" stroke-width="2.2"/>
<circle cx="1327.4" cy="1908.4" r="3.7" fill="#fff" stroke="#000" stroke-width="2.2"/>
<circle cx="1338.4" cy="1907.7" r="3.7" fill="#fff" stroke="#000" stroke-width="2.2"/>
<circle cx="1349.9" cy="1908.4" r="3.7" fill="#fff" stroke="#000" stroke-width="2.2"/>
<line x1="1104.7" y1="1838.2" x2="1115.2" y2="1838.2" stroke="#000" stroke-width="2.5"/>
<text x="1102.5" y="1846.3" font-size="24" text-anchor="end">150</text>
<line x1="1104.7" y1="1908.4" x2="1115.2" y2="1908.4" stroke="#000" stroke-width="2.5"/>
<text x="1102.5" y="1916.5" font-size="24" text-anchor="end">100</text>
<line x1="1104.7" y1="1978.5" x2="1115.2" y2="1978.5" stroke="#000" stroke-width="2.5"/>
<text x="1102.5" y="1986.7" font-size="24" text-anchor="end">50</text>
<line x1="1104.7" y1="2048.7" x2="1115.2" y2="2048.7" stroke="#000" stroke-width="2.5"/>
<text x="1102.5" y="2056.8" font-size="24" text-anchor="end">0</text>
<text x="1265.0" y="1822.3" font-size="19.1" text-anchor="middle" font-style="italic">P &lt; 0.0001</text>
<line x1="1192.4" y1="1833.4" x2="1337.8" y2="1833.4" stroke="#000" stroke-width="2.5"/>
<text x="1312.0" y="1858.3" font-size="19.1" text-anchor="middle" font-style="italic">P &lt; 0.0001</text>
<line x1="1287.0" y1="1870.2" x2="1337.8" y2="1870.2" stroke="#000" stroke-width="2.5"/>
<text x="1243.0" y="1890.7" font-size="19.1" text-anchor="middle" font-style="italic">P &lt; 0.0001</text>
<line x1="1192.4" y1="1902.6" x2="1293.3" y2="1902.6" stroke="#000" stroke-width="2.5"/>
<text x="1241.4" y="1772.0" font-size="24.4" text-anchor="middle">CD69<tspan font-size="17.3" dy="-9.8">+</tspan></text>
<text x="1044.5" y="1920.0" font-size="24" text-anchor="middle" transform="rotate(-90 1044.5 1920.0)">% in CD8<tspan font-size="17.5" dy="-9.8">+</tspan><tspan dy="9.8"> cells</tspan></text>
<line x1="1456.0" y1="2037.8" x2="1456.0" y2="2043.3" stroke="#000" stroke-width="2.3"/>
<line x1="1449.5" y1="2037.8" x2="1462.5" y2="2037.8" stroke="#000" stroke-width="2.3"/>
<rect x="1441.9" y="2044.5" width="28.2" height="4.2" fill="#fff" stroke="#000" stroke-width="2.4"/>
<rect x="1490.4" y="2045.4" width="28.2" height="3.3" fill="#d4d4d4" stroke="#000" stroke-width="2.4"/>
<rect x="1538.9" y="2040.8" width="28.2" height="7.9" fill="#808080" stroke="#000" stroke-width="2.4"/>
<line x1="1601.5" y1="2029.7" x2="1601.5" y2="2034.2" stroke="#000" stroke-width="2.3"/>
<line x1="1595.0" y1="2029.7" x2="1608.0" y2="2029.7" stroke="#000" stroke-width="2.3"/>
<rect x="1587.4" y="2035.4" width="28.2" height="13.3" fill="url(#hatch)" stroke="#000" stroke-width="2.4"/>
<line x1="1650.0" y1="1889.4" x2="1650.0" y2="1911.1" stroke="#000" stroke-width="2.3"/>
<line x1="1643.5" y1="1889.4" x2="1656.5" y2="1889.4" stroke="#000" stroke-width="2.3"/>
<rect x="1635.9" y="1912.3" width="28.2" height="136.4" fill="#000" stroke="#000" stroke-width="2.4"/>
<rect x="1426.8" y="1795.5" width="252.8" height="253.2" fill="none" stroke="#000" stroke-width="2.5"/>
<line x1="1416.3" y1="2048.7" x2="1680.8" y2="2048.7" stroke="#000" stroke-width="2.5"/>
<circle cx="1445.0" cy="2037.8" r="3.7" fill="#fff" stroke="#000" stroke-width="2.2"/>
<circle cx="1467.5" cy="2042.4" r="3.7" fill="#fff" stroke="#000" stroke-width="2.2"/>
<circle cx="1445.0" cy="2047.8" r="3.7" fill="#fff" stroke="#000" stroke-width="2.2"/>
<circle cx="1493.5" cy="2045.1" r="3.7" fill="#fff" stroke="#000" stroke-width="2.2"/>
<circle cx="1504.5" cy="2040.6" r="3.7" fill="#fff" stroke="#000" stroke-width="2.2"/>
<circle cx="1516.0" cy="2043.3" r="3.7" fill="#fff" stroke="#000" stroke-width="2.2"/>
<circle cx="1542.0" cy="2040.6" r="3.7" fill="#fff" stroke="#000" stroke-width="2.2"/>
<circle cx="1553.0" cy="2035.1" r="3.7" fill="#fff" stroke="#000" stroke-width="2.2"/>
<circle cx="1564.5" cy="2040.6" r="3.7" fill="#fff" stroke="#000" stroke-width="2.2"/>
<circle cx="1590.5" cy="2029.7" r="3.7" fill="#fff" stroke="#000" stroke-width="2.2"/>
<circle cx="1613.0" cy="2036.0" r="3.7" fill="#fff" stroke="#000" stroke-width="2.2"/>
<circle cx="1590.5" cy="2037.8" r="3.7" fill="#fff" stroke="#000" stroke-width="2.2"/>
<circle cx="1650.0" cy="1887.6" r="3.7" fill="#fff" stroke="#000" stroke-width="2.2"/>
<circle cx="1650.0" cy="1914.7" r="3.7" fill="#fff" stroke="#000" stroke-width="2.2"/>
<circle cx="1650.0" cy="1929.2" r="3.7" fill="#fff" stroke="#000" stroke-width="2.2"/>
<line x1="1416.3" y1="1822.4" x2="1426.8" y2="1822.4" stroke="#000" stroke-width="2.5"/>
<text x="1412.5" y="1830.5" font-size="24" text-anchor="end">125</text>
<line x1="1416.3" y1="1867.7" x2="1426.8" y2="1867.7" stroke="#000" stroke-width="2.5"/>
<text x="1412.5" y="1875.8" font-size="24" text-anchor="end">100</text>
<line x1="1416.3" y1="1912.9" x2="1426.8" y2="1912.9" stroke="#000" stroke-width="2.5"/>
<text x="1412.5" y="1921.0" font-size="24" text-anchor="end">75</text>
<line x1="1416.3" y1="1958.2" x2="1426.8" y2="1958.2" stroke="#000" stroke-width="2.5"/>
<text x="1412.5" y="1966.3" font-size="24" text-anchor="end">50</text>
<line x1="1416.3" y1="2003.4" x2="1426.8" y2="2003.4" stroke="#000" stroke-width="2.5"/>
<text x="1412.5" y="2011.6" font-size="24" text-anchor="end">25</text>
<line x1="1416.3" y1="2048.7" x2="1426.8" y2="2048.7" stroke="#000" stroke-width="2.5"/>
<text x="1412.5" y="2056.8" font-size="24" text-anchor="end">0</text>
<text x="1574.4" y="1823.4" font-size="19.1" text-anchor="middle" font-style="italic">P &lt; 0.0001</text>
<line x1="1496.8" y1="1835.3" x2="1653.0" y2="1835.3" stroke="#000" stroke-width="2.5"/>
<text x="1623.3" y="1865.7" font-size="19.1" text-anchor="middle" font-style="italic">P &lt; 0.0001</text>
<line x1="1600.5" y1="1877.6" x2="1647.6" y2="1877.6" stroke="#000" stroke-width="2.5"/>
<text x="1552.9" y="1772.7" font-size="24.4" text-anchor="middle">IFN-γ<tspan font-size="17.3" dy="-9.8">+</tspan></text>
<line x1="1768.7" y1="2034.5" x2="1768.7" y2="2040.8" stroke="#000" stroke-width="2.3"/>
<line x1="1762.2" y1="2034.5" x2="1775.2" y2="2034.5" stroke="#000" stroke-width="2.3"/>
<rect x="1754.6" y="2042.0" width="28.2" height="7.8" fill="#fff" stroke="#000" stroke-width="2.4"/>
<rect x="1803.1" y="2045.6" width="28.2" height="4.2" fill="#d4d4d4" stroke="#000" stroke-width="2.4"/>
<rect x="1851.6" y="2042.0" width="28.2" height="7.8" fill="#808080" stroke="#000" stroke-width="2.4"/>
<line x1="1914.2" y1="2042.6" x2="1914.2" y2="2046.2" stroke="#000" stroke-width="2.3"/>
<line x1="1907.7" y1="2042.6" x2="1920.7" y2="2042.6" stroke="#000" stroke-width="2.3"/>
<rect x="1900.1" y="2047.4" width="28.2" height="2.4" fill="url(#hatch)" stroke="#000" stroke-width="2.4"/>
<line x1="1962.7" y1="1877.2" x2="1962.7" y2="1884.3" stroke="#000" stroke-width="2.3"/>
<line x1="1956.2" y1="1877.2" x2="1969.2" y2="1877.2" stroke="#000" stroke-width="2.3"/>
<rect x="1948.6" y="1885.5" width="28.2" height="164.3" fill="#000" stroke="#000" stroke-width="2.4"/>
<rect x="1739.6" y="1798.0" width="253.9" height="251.8" fill="none" stroke="#000" stroke-width="2.5"/>
<line x1="1729.1" y1="2049.8" x2="1994.7" y2="2049.8" stroke="#000" stroke-width="2.5"/>
<circle cx="1757.7" cy="2034.5" r="3.7" fill="#fff" stroke="#000" stroke-width="2.2"/>
<circle cx="1780.2" cy="2039.9" r="3.7" fill="#fff" stroke="#000" stroke-width="2.2"/>
<circle cx="1768.7" cy="2048.9" r="3.7" fill="#fff" stroke="#000" stroke-width="2.2"/>
<circle cx="1806.2" cy="2045.3" r="3.7" fill="#fff" stroke="#000" stroke-width="2.2"/>
<circle cx="1817.2" cy="2040.8" r="3.7" fill="#fff" stroke="#000" stroke-width="2.2"/>
<circle cx="1828.7" cy="2043.5" r="3.7" fill="#fff" stroke="#000" stroke-width="2.2"/>
<circle cx="1854.7" cy="2042.6" r="3.7" fill="#fff" stroke="#000" stroke-width="2.2"/>
<circle cx="1865.7" cy="2037.2" r="3.7" fill="#fff" stroke="#000" stroke-width="2.2"/>
<circle cx="1877.2" cy="2041.7" r="3.7" fill="#fff" stroke="#000" stroke-width="2.2"/>
<circle cx="1903.2" cy="2048.9" r="3.7" fill="#fff" stroke="#000" stroke-width="2.2"/>
<circle cx="1914.2" cy="2041.7" r="3.7" fill="#fff" stroke="#000" stroke-width="2.2"/>
<circle cx="1925.7" cy="2047.1" r="3.7" fill="#fff" stroke="#000" stroke-width="2.2"/>
<circle cx="1951.7" cy="1887.9" r="3.7" fill="#fff" stroke="#000" stroke-width="2.2"/>
<circle cx="1962.7" cy="1875.4" r="3.7" fill="#fff" stroke="#000" stroke-width="2.2"/>
<circle cx="1974.2" cy="1883.4" r="3.7" fill="#fff" stroke="#000" stroke-width="2.2"/>
<line x1="1729.1" y1="1825.0" x2="1739.6" y2="1825.0" stroke="#000" stroke-width="2.5"/>
<text x="1725.0" y="1833.1" font-size="24" text-anchor="end">125</text>
<line x1="1729.1" y1="1870.0" x2="1739.6" y2="1870.0" stroke="#000" stroke-width="2.5"/>
<text x="1725.0" y="1878.1" font-size="24" text-anchor="end">100</text>
<line x1="1729.1" y1="1914.9" x2="1739.6" y2="1914.9" stroke="#000" stroke-width="2.5"/>
<text x="1725.0" y="1923.0" font-size="24" text-anchor="end">75</text>
<line x1="1729.1" y1="1959.9" x2="1739.6" y2="1959.9" stroke="#000" stroke-width="2.5"/>
<text x="1725.0" y="1968.0" font-size="24" text-anchor="end">50</text>
<line x1="1729.1" y1="2004.8" x2="1739.6" y2="2004.8" stroke="#000" stroke-width="2.5"/>
<text x="1725.0" y="2013.0" font-size="24" text-anchor="end">25</text>
<line x1="1729.1" y1="2049.8" x2="1739.6" y2="2049.8" stroke="#000" stroke-width="2.5"/>
<text x="1725.0" y="2057.9" font-size="24" text-anchor="end">0</text>
<text x="1887.0" y="1818.6" font-size="19.1" text-anchor="middle" font-style="italic">P &lt; 0.0001</text>
<line x1="1814.7" y1="1830.8" x2="1963.0" y2="1830.8" stroke="#000" stroke-width="2.5"/>
<text x="1938.6" y="1853.6" font-size="19.1" text-anchor="middle" font-style="italic">P &lt; 0.0001</text>
<line x1="1917.7" y1="1865.0" x2="1963.0" y2="1865.0" stroke="#000" stroke-width="2.5"/>
<text x="1865.0" y="1773.8" font-size="24.4" text-anchor="middle">TNF-α<tspan font-size="17.3" dy="-9.8">+</tspan></text>
<line x1="1196.0" y1="2098.4" x2="1904.0" y2="2098.4" stroke="#000" stroke-width="3"/>
<text x="1530.2" y="2148.6" font-size="24.6" text-anchor="middle">72 h</text>
</svg>
</body>
</html>
